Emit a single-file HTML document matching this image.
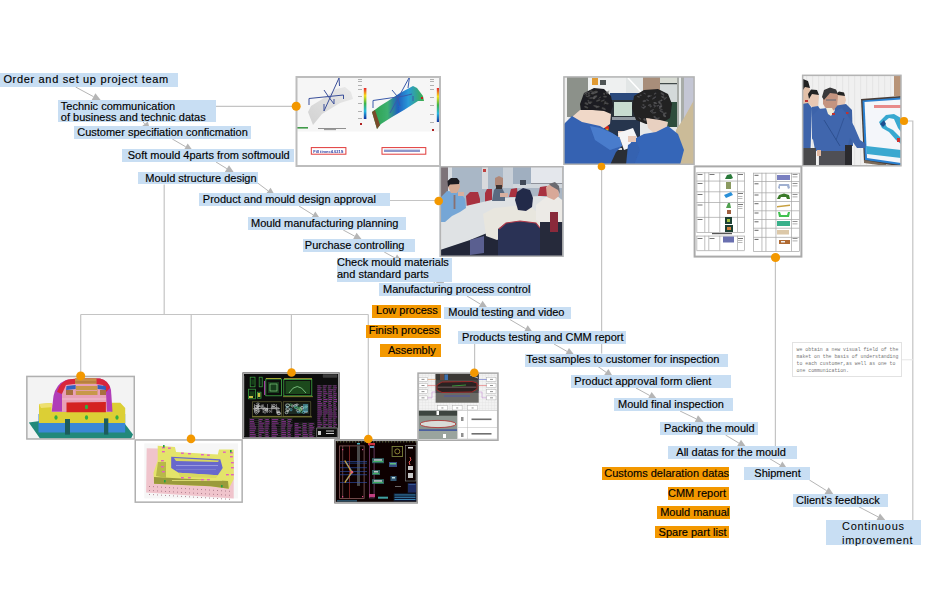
<!DOCTYPE html><html><head><meta charset="utf-8"><style>
html,body{margin:0;padding:0;background:#fff;width:930px;height:600px;overflow:hidden}
.b{position:absolute}
.t{position:absolute;font-family:"Liberation Sans",sans-serif;font-size:11px;line-height:13px;color:#000;white-space:nowrap;-webkit-text-stroke:0.15px #000}
svg{position:absolute;left:0;top:0}
</style></head><body>
<svg width="930" height="600" viewBox="0 0 930 600"><polyline points="215.9,106.3 296.0,106.3" fill="none" stroke="#c4c4c4" stroke-width="1.2"/><polyline points="389.7,200.5 439.0,200.5" fill="none" stroke="#c4c4c4" stroke-width="1.2"/><polyline points="164.2,184.4 164.2,314.5" fill="none" stroke="#c4c4c4" stroke-width="1.2"/><polyline points="80.7,314.5 368.3,314.5" fill="none" stroke="#c4c4c4" stroke-width="1.2"/><polyline points="80.7,314.5 80.7,376.0" fill="none" stroke="#c4c4c4" stroke-width="1.2"/><polyline points="191.2,314.5 191.2,439.0" fill="none" stroke="#c4c4c4" stroke-width="1.2"/><polyline points="291.4,314.5 291.4,372.5" fill="none" stroke="#c4c4c4" stroke-width="1.2"/><polyline points="368.3,314.5 368.3,439.0" fill="none" stroke="#c4c4c4" stroke-width="1.2"/><polyline points="474.6,343.7 474.6,372.7" fill="none" stroke="#c4c4c4" stroke-width="1.2"/><polyline points="601.6,166.4 601.6,353.5" fill="none" stroke="#c4c4c4" stroke-width="1.2"/><polyline points="775.4,257.4 775.4,446.0" fill="none" stroke="#c4c4c4" stroke-width="1.2"/><polyline points="904.0,121.0 912.8,121.0 912.8,520.2" fill="none" stroke="#c4c4c4" stroke-width="1.2"/><rect x="436.3" y="281.6" width="7.6" height="1.7" fill="#b5b5b5"/><line x1="901.6" y1="359.8" x2="913" y2="359.8" stroke="#e6e6e6" stroke-width="1"/><line x1="75.6" y1="87.0" x2="93.5" y2="96.7" stroke="#b5b5b5" stroke-width="1"/><polygon points="101.4,101.0 91.6,100.2 95.4,93.2" fill="#b5b5b5"/><line x1="137.0" y1="114.5" x2="144.7" y2="123.9" stroke="#b5b5b5" stroke-width="1"/><polygon points="150.4,130.9 141.6,126.5 147.8,121.4" fill="#b5b5b5"/><line x1="172.3" y1="139.0" x2="185.7" y2="146.8" stroke="#b5b5b5" stroke-width="1"/><polygon points="193.4,151.4 183.7,150.3 187.7,143.4" fill="#b5b5b5"/><line x1="216.0" y1="162.0" x2="226.9" y2="168.7" stroke="#b5b5b5" stroke-width="1"/><polygon points="234.6,173.4 224.8,172.1 229.0,165.3" fill="#b5b5b5"/><line x1="257.7" y1="183.0" x2="268.2" y2="190.9" stroke="#b5b5b5" stroke-width="1"/><polygon points="275.4,196.3 265.8,194.1 270.6,187.7" fill="#b5b5b5"/><line x1="299.0" y1="206.0" x2="313.2" y2="214.9" stroke="#b5b5b5" stroke-width="1"/><polygon points="320.8,219.7 311.1,218.3 315.3,211.5" fill="#b5b5b5"/><line x1="343.2" y1="230.0" x2="354.7" y2="236.2" stroke="#b5b5b5" stroke-width="1"/><polygon points="362.6,240.5 352.8,239.7 356.6,232.7" fill="#b5b5b5"/><line x1="384.2" y1="252.0" x2="395.1" y2="258.0" stroke="#b5b5b5" stroke-width="1"/><polygon points="402.9,262.4 393.1,261.5 397.0,254.5" fill="#b5b5b5"/><line x1="428.0" y1="276.0" x2="436.6" y2="285.0" stroke="#b5b5b5" stroke-width="1"/><polygon points="442.9,291.5 433.7,287.7 439.5,282.2" fill="#b5b5b5"/><line x1="467.0" y1="296.0" x2="480.5" y2="304.2" stroke="#b5b5b5" stroke-width="1"/><polygon points="488.2,308.9 478.4,307.6 482.6,300.8" fill="#b5b5b5"/><line x1="509.7" y1="319.4" x2="525.7" y2="328.8" stroke="#b5b5b5" stroke-width="1"/><polygon points="533.4,333.3 523.7,332.2 527.7,325.3" fill="#b5b5b5"/><line x1="554.0" y1="344.0" x2="567.0" y2="351.4" stroke="#b5b5b5" stroke-width="1"/><polygon points="574.9,355.8 565.1,354.9 569.0,347.9" fill="#b5b5b5"/><line x1="598.0" y1="366.5" x2="606.1" y2="372.3" stroke="#b5b5b5" stroke-width="1"/><polygon points="613.4,377.5 603.8,375.5 608.4,369.0" fill="#b5b5b5"/><line x1="636.0" y1="388.0" x2="649.7" y2="395.5" stroke="#b5b5b5" stroke-width="1"/><polygon points="657.6,399.8 647.8,399.0 651.6,392.0" fill="#b5b5b5"/><line x1="680.0" y1="411.0" x2="696.3" y2="418.9" stroke="#b5b5b5" stroke-width="1"/><polygon points="704.3,422.8 694.5,422.5 698.0,415.3" fill="#b5b5b5"/><line x1="725.5" y1="435.0" x2="738.9" y2="443.1" stroke="#b5b5b5" stroke-width="1"/><polygon points="746.6,447.8 736.9,446.5 741.0,439.7" fill="#b5b5b5"/><line x1="769.4" y1="458.5" x2="780.2" y2="465.0" stroke="#b5b5b5" stroke-width="1"/><polygon points="787.9,469.7 778.2,468.5 782.3,461.6" fill="#b5b5b5"/><line x1="809.4" y1="480.0" x2="826.6" y2="490.7" stroke="#b5b5b5" stroke-width="1"/><polygon points="834.2,495.5 824.5,494.1 828.7,487.3" fill="#b5b5b5"/><line x1="858.3" y1="506.5" x2="878.1" y2="516.9" stroke="#b5b5b5" stroke-width="1"/><polygon points="886.1,521.1 876.3,520.5 880.0,513.4" fill="#b5b5b5"/><defs><filter id="bl" x="-2%" y="-2%" width="104%" height="104%"><feGaussianBlur stdDeviation="0.45"/></filter><filter id="bl2" x="-2%" y="-2%" width="104%" height="104%"><feGaussianBlur stdDeviation="0.7"/></filter>
<linearGradient id="cbar" x1="0" y1="0" x2="0" y2="1">
<stop offset="0" stop-color="#e8202a"/><stop offset="0.25" stop-color="#f5e01a"/><stop offset="0.5" stop-color="#3cb54a"/><stop offset="0.75" stop-color="#28b7e0"/><stop offset="1" stop-color="#1030a0"/></linearGradient>
<linearGradient id="band" x1="0" y1="0" x2="1" y2="0">
<stop offset="0" stop-color="#2aa04a"/><stop offset="0.3" stop-color="#3db070"/><stop offset="0.5" stop-color="#1f5fc0"/><stop offset="0.7" stop-color="#2a9ad8"/><stop offset="1" stop-color="#3cb04a"/></linearGradient>
<linearGradient id="gband" x1="0" y1="1" x2="1" y2="0">
<stop offset="0" stop-color="#d2d2d2"/><stop offset="1" stop-color="#e9e9e9"/></linearGradient>
</defs><g filter="url(#bl)"><rect x="295.5" y="76" width="145" height="90" fill="#ffffff" /><rect x="297" y="78" width="142" height="53.5" fill="#f6f6f6" /><polygon points="308,112 313,125 322,114 340,103 353,99 351,92 345,87 336,89 324,98 311,106" fill="url(#gband)" /><polyline points="309,105 309,98.5 343.5,95 343.5,99" fill="none" stroke="#3a4f9a" stroke-width="1" /><polyline points="339.5,86 339,78 324,111" fill="none" stroke="#3a4f9a" stroke-width="1" /><polyline points="324,90 328,96 334,104" fill="none" stroke="#3a4f9a" stroke-width="1" /><polyline points="324,104 324,111" fill="none" stroke="#3a4f9a" stroke-width="1" /><polyline points="334,99 334,104" fill="none" stroke="#3a4f9a" stroke-width="1" /><rect x="363.8" y="88" width="2.6" height="31" fill="url(#cbar)" /><rect x="358" y="79" width="4" height="0.8" fill="#a0a0a0" /><rect x="358" y="81" width="4" height="0.8" fill="#a0a0a0" /><rect x="358" y="85" width="4" height="0.8" fill="#a0a0a0" /><rect x="358" y="89" width="4" height="0.8" fill="#a0a0a0" /><rect x="358" y="96" width="4" height="0.8" fill="#a0a0a0" /><rect x="358" y="103" width="4" height="0.8" fill="#a0a0a0" /><rect x="358" y="111" width="4" height="0.8" fill="#a0a0a0" /><rect x="358" y="118" width="4" height="0.8" fill="#a0a0a0" /><rect x="297" y="127" width="11" height="1.6" fill="#3f9a48" /><rect x="318" y="128" width="28" height="0.8" fill="#777" /><rect x="324" y="129.3" width="12" height="0.8" fill="#777" /><rect x="360" y="123" width="2" height="2" fill="#b02020" /><polygon points="372,112 377,129 381,124 392,117 404,110 418,101 424,101 423,96 417,88 413,86 400,93 388,101 380,106" fill="url(#band)" /><polygon points="372,112 377,129 380,125 375,110" fill="#7a4a2a" /><rect x="421" y="97" width="2" height="2" fill="#c02020" /><polyline points="373,108 373,100.5 404,96 412,94" fill="none" stroke="#3a5aaa" stroke-width="1" /><polyline points="408,88 409.5,77 390,113" fill="none" stroke="#3a5aaa" stroke-width="1" /><polyline points="392,90 397,96 400,106" fill="none" stroke="#3a5aaa" stroke-width="1" /><polyline points="413,96 413,101" fill="none" stroke="#3a5aaa" stroke-width="1" /><rect x="436.8" y="88" width="2.5" height="34" fill="url(#cbar)" /><rect x="430" y="79" width="4" height="0.8" fill="#a0a0a0" /><rect x="430" y="81" width="4" height="0.8" fill="#a0a0a0" /><rect x="430" y="85" width="4" height="0.8" fill="#a0a0a0" /><rect x="430" y="89" width="4" height="0.8" fill="#a0a0a0" /><rect x="430" y="97" width="4" height="0.8" fill="#a0a0a0" /><rect x="430" y="105" width="4" height="0.8" fill="#a0a0a0" /><rect x="430" y="114" width="4" height="0.8" fill="#a0a0a0" /><rect x="430" y="122" width="4" height="0.8" fill="#a0a0a0" /><rect x="432" y="129" width="2" height="2" fill="#b02020" /><rect x="311.3" y="147.6" width="34.6" height="6.6" fill="#ffffff" stroke="#e03a3a" stroke-width="1"/><text x="313.2" y="152.5" font-family="Liberation Sans" font-size="4.0" font-weight="bold" fill="#2a3aa0">Fill time=4.021S</text><rect x="382" y="147.6" width="43.8" height="6.6" fill="#ffffff" stroke="#e03a3a" stroke-width="1"/><rect x="384" y="149.6" width="36" height="2.4" fill="#3040a0" opacity="0.55"/></g><rect x="296.5" y="77.0" width="143.5" height="89" fill="none" stroke="#bdbdbd" stroke-width="2"/><g filter="url(#bl)"><rect x="439.6" y="166" width="124.0" height="91" fill="#aab6c4" /><rect x="440" y="166" width="9" height="32" fill="#7d7378" /><rect x="448" y="166" width="4" height="40" fill="#d8dde2" /><rect x="452" y="166" width="60" height="36" fill="#a9b7c6" /><rect x="503" y="166" width="10" height="22" fill="#c9d0d8" /><rect x="513" y="166" width="18" height="20" fill="#a0afc0" /><rect x="531" y="166" width="32" height="19" fill="#e4e7ec" /><rect x="531" y="183.5" width="32" height="2" fill="#3a3f4a" /><rect x="513" y="184" width="50" height="4" fill="#d0d6dc" /><rect x="482" y="167" width="6" height="22" fill="#d9dadd" /><rect x="483" y="169" width="3" height="3" fill="#c04040" /><rect x="455" y="181" width="3" height="3" fill="#506070" /><rect x="520" y="180" width="6" height="5" fill="#404858" /><polygon points="466,196 470,192 478,192 480,199 480,207 467,207" fill="#a83040" /><polygon points="485,193 487,189 492,189 492,203 485,203" fill="#a83040" /><polygon points="509,197 511,189 517,188 518,197" fill="#a83040" /><polygon points="538,196 540,187 547,186 547,196" fill="#a83040" /><polygon points="440,212 470,205 500,198 540,196 563,200 563,257 440,257" fill="#dfe2e4" /><polygon points="440,250 470,240 497,229 563,222 563,257 440,257" fill="#222838" /><polygon points="470,240 484,236 484,253 470,255" fill="#5a5e90" /><polygon points="440,198 447,191 460,192 465,199 466,208 460,212 452,216 445,222 440,222" fill="#74a6d6" /><rect x="453.6" y="195" width="1.8" height="14" fill="#8a7070" /><polygon points="448,181 453,179 459,181 460,187 457,193 451,193 448,187" fill="#d4aa94" /><polygon points="447.5,181 451,178 457,178 459.5,181 459,184 450,184.5 448,187" fill="#1a1a20" /><rect x="458" y="192" width="6" height="4" fill="#d8b0a0" /><polygon points="494,190 498,186 502,188 505,194 505,201 492,201" fill="#5a6a80" /><polygon points="495,178 499,176 503,178 503,187 499,189 495,186" fill="#b08878" /><rect x="496" y="185" width="6" height="4" fill="#3a3030" /><rect x="500" y="193" width="8" height="4" fill="#d8b0a0" /><polygon points="483,214 494,208 514,206 532,208 540,214 540,232 527,230 510,233 497,240 486,236" fill="#e8e6de" /><polygon points="515,200 517,192 523,188 530,190 533,198 532,207 526,211 518,210" fill="#242a4a" /><polygon points="536,205 546,197 556,195 562,200 562,225 545,226 536,220" fill="#eceae6" /><polygon points="546,187 552,183 558,186 559,196 554,200 547,197" fill="#d8a898" /><polygon points="549,184 555,182 559,186 560,194 558,190 551,186" fill="#6a6a70" /><polygon points="498,229 506,223 520,221 536,223 540,228 540,256 498,256" fill="#2c3155" /><polyline points="499,229 506,223 520,221 536,223 540,228" fill="none" stroke="#b03a4a" stroke-width="1.2" /><rect x="540" y="222" width="23" height="34" fill="#262a3a" /><rect x="550" y="212" width="8" height="20" fill="#8a2a3a" /></g><rect x="440.35" y="166.75" width="122.5" height="89.5" fill="none" stroke="#b4b4b4" stroke-width="1.5"/><g filter="url(#bl)"><rect x="563.2" y="76.2" width="131.5999999999999" height="88.8" fill="#e6e8e8" /><rect x="564" y="77" width="4" height="45" fill="#f0f0f0" /><rect x="567" y="77" width="21" height="40" fill="#8c918a" /><rect x="588" y="77" width="40" height="16" fill="#eef0f0" /><rect x="592" y="78" width="6" height="7" fill="#e09a30" /><rect x="600" y="80" width="6" height="5" fill="#505454" /><rect x="626" y="77" width="17" height="16" fill="#e2e6e6" /><polyline points="628,78 642,93" fill="none" stroke="#ffffff" stroke-width="1.5" /><rect x="643" y="77" width="17" height="16" fill="#a88e7a" /><rect x="660" y="77" width="19" height="6" fill="#d8dcd4" /><rect x="660" y="83" width="19" height="1.5" fill="#404848" /><rect x="660" y="84.5" width="19" height="18" fill="#d4dada" /><rect x="660" y="102" width="18" height="25" fill="#2e4e3e" /><rect x="677" y="77" width="8" height="60" fill="#a8aca8" /><rect x="679" y="77" width="2" height="55" fill="#e8ecec" /><rect x="684" y="77" width="10" height="80" fill="#c4c6d4" /><polygon points="676,130 684,118 694,100 694,164 672,164" fill="#cbbb98" /><rect x="610" y="93" width="30" height="8" fill="#2c4a7c" /><rect x="608" y="100" width="32" height="45" fill="#2a3038" /><rect x="614" y="102" width="18" height="14" fill="#c8dcd0" /><rect x="612" y="117" width="24" height="3" fill="#9098a0" /><rect x="604" y="120" width="36" height="20" fill="#26344e" /><rect x="602" y="140" width="40" height="25" fill="#2a2e34" /><rect x="606" y="148" width="16" height="2" fill="#d8d8d8" /><circle cx="607" cy="128" r="2.2" fill="#d8281c"/><circle cx="607" cy="130" r="1.5" fill="#e0d020" opacity="0.7"/><polygon points="580,104 584,93 594,88 604,89 611,96 613,106 610,114 600,112 590,110 581,112" fill="#1e1e20" /><ellipse cx="592.4" cy="93.7" rx="2.0" ry="0.5" fill="#68686a" opacity="0.55" transform="rotate(3 592.4 93.7)"/><ellipse cx="593.4" cy="92.0" rx="1.8" ry="0.5" fill="#68686a" opacity="0.55" transform="rotate(-5 593.4 92.0)"/><ellipse cx="586.6" cy="92.6" rx="1.6" ry="1.0" fill="#68686a" opacity="0.55" transform="rotate(-30 586.6 92.6)"/><ellipse cx="590.1" cy="102.3" rx="2.4" ry="0.8" fill="#68686a" opacity="0.55" transform="rotate(-8 590.1 102.3)"/><ellipse cx="607.5" cy="91.8" rx="2.3" ry="0.7" fill="#68686a" opacity="0.55" transform="rotate(-28 607.5 91.8)"/><ellipse cx="587.7" cy="96.6" rx="2.2" ry="0.6" fill="#68686a" opacity="0.55" transform="rotate(7 587.7 96.6)"/><ellipse cx="599.7" cy="97.7" rx="1.8" ry="0.5" fill="#68686a" opacity="0.55" transform="rotate(-35 599.7 97.7)"/><ellipse cx="589.7" cy="103.2" rx="1.6" ry="0.7" fill="#68686a" opacity="0.55" transform="rotate(7 589.7 103.2)"/><ellipse cx="595.4" cy="96.4" rx="2.2" ry="0.9" fill="#68686a" opacity="0.55" transform="rotate(-20 595.4 96.4)"/><ellipse cx="598.2" cy="100.5" rx="2.3" ry="0.9" fill="#68686a" opacity="0.55" transform="rotate(-17 598.2 100.5)"/><ellipse cx="607.5" cy="93.1" rx="1.6" ry="1.0" fill="#68686a" opacity="0.55" transform="rotate(-28 607.5 93.1)"/><ellipse cx="596.2" cy="91.7" rx="2.0" ry="1.0" fill="#68686a" opacity="0.55" transform="rotate(6 596.2 91.7)"/><ellipse cx="605.1" cy="96.6" rx="2.0" ry="0.9" fill="#68686a" opacity="0.55" transform="rotate(6 605.1 96.6)"/><ellipse cx="595.5" cy="106.1" rx="2.4" ry="0.8" fill="#68686a" opacity="0.55" transform="rotate(13 595.5 106.1)"/><ellipse cx="586.4" cy="103.6" rx="2.0" ry="1.1" fill="#68686a" opacity="0.55" transform="rotate(26 586.4 103.6)"/><ellipse cx="591.5" cy="97.9" rx="2.0" ry="0.5" fill="#68686a" opacity="0.55" transform="rotate(-3 591.5 97.9)"/><ellipse cx="588.9" cy="93.1" rx="1.1" ry="1.0" fill="#68686a" opacity="0.55" transform="rotate(-30 588.9 93.1)"/><ellipse cx="590.7" cy="98.0" rx="2.3" ry="0.5" fill="#68686a" opacity="0.55" transform="rotate(-4 590.7 98.0)"/><ellipse cx="597.6" cy="106.9" rx="2.2" ry="1.0" fill="#68686a" opacity="0.55" transform="rotate(-18 597.6 106.9)"/><ellipse cx="594.6" cy="97.5" rx="2.3" ry="1.1" fill="#68686a" opacity="0.55" transform="rotate(-28 594.6 97.5)"/><ellipse cx="589.1" cy="95.2" rx="1.4" ry="0.8" fill="#68686a" opacity="0.55" transform="rotate(7 589.1 95.2)"/><ellipse cx="591.0" cy="91.1" rx="1.6" ry="0.7" fill="#68686a" opacity="0.55" transform="rotate(5 591.0 91.1)"/><ellipse cx="606.9" cy="103.4" rx="1.8" ry="0.9" fill="#68686a" opacity="0.55" transform="rotate(14 606.9 103.4)"/><ellipse cx="586.2" cy="107.2" rx="2.2" ry="1.0" fill="#68686a" opacity="0.55" transform="rotate(24 586.2 107.2)"/><ellipse cx="594.0" cy="98.2" rx="1.2" ry="0.9" fill="#68686a" opacity="0.55" transform="rotate(-35 594.0 98.2)"/><ellipse cx="586.5" cy="94.8" rx="1.2" ry="0.7" fill="#68686a" opacity="0.55" transform="rotate(-36 586.5 94.8)"/><ellipse cx="585.0" cy="93.7" rx="1.2" ry="0.7" fill="#68686a" opacity="0.55" transform="rotate(-38 585.0 93.7)"/><ellipse cx="605.1" cy="102.1" rx="1.2" ry="0.7" fill="#68686a" opacity="0.55" transform="rotate(-12 605.1 102.1)"/><ellipse cx="593.4" cy="93.2" rx="2.3" ry="1.1" fill="#68686a" opacity="0.55" transform="rotate(-3 593.4 93.2)"/><ellipse cx="596.1" cy="92.5" rx="1.2" ry="0.7" fill="#68686a" opacity="0.55" transform="rotate(-19 596.1 92.5)"/><ellipse cx="604.1" cy="93.9" rx="1.0" ry="1.1" fill="#68686a" opacity="0.55" transform="rotate(2 604.1 93.9)"/><ellipse cx="588.4" cy="100.8" rx="1.0" ry="0.8" fill="#68686a" opacity="0.55" transform="rotate(38 588.4 100.8)"/><ellipse cx="604.9" cy="103.5" rx="1.4" ry="0.7" fill="#68686a" opacity="0.55" transform="rotate(-27 604.9 103.5)"/><ellipse cx="602.8" cy="100.6" rx="2.2" ry="0.7" fill="#68686a" opacity="0.55" transform="rotate(-22 602.8 100.6)"/><ellipse cx="603.7" cy="108.7" rx="2.3" ry="1.0" fill="#68686a" opacity="0.55" transform="rotate(25 603.7 108.7)"/><polygon points="572,117 580,110 592,110 604,111 611,114 610,124 600,131 586,128 576,124" fill="#f0d8c8" /><polygon points="564,124 572,116 582,122 600,126 612,133 620,138 622,146 616,152 610,165 564,165" fill="#3462b2" /><polygon points="590,126 600,128 612,133 620,138 622,146 610,150 595,140" fill="#4a7ccc" /><rect x="618" y="131" width="8" height="6" fill="#e8c8b8" /><polygon points="618,133 633,128 640,144 624,150" fill="#f4f4f6" /><polygon points="632,108 634,96 644,90 658,89 668,94 672,104 670,118 660,124 646,124 636,120" fill="#202022" /><ellipse cx="644.3" cy="119.0" rx="1.2" ry="0.9" fill="#68686a" opacity="0.55" transform="rotate(-33 644.3 119.0)"/><ellipse cx="644.9" cy="120.0" rx="1.3" ry="0.9" fill="#68686a" opacity="0.55" transform="rotate(-3 644.9 120.0)"/><ellipse cx="650.7" cy="106.4" rx="1.3" ry="1.0" fill="#68686a" opacity="0.55" transform="rotate(-33 650.7 106.4)"/><ellipse cx="644.6" cy="93.5" rx="1.4" ry="0.7" fill="#68686a" opacity="0.55" transform="rotate(32 644.6 93.5)"/><ellipse cx="648.6" cy="96.1" rx="1.4" ry="1.1" fill="#68686a" opacity="0.55" transform="rotate(-35 648.6 96.1)"/><ellipse cx="655.4" cy="103.2" rx="2.0" ry="0.7" fill="#68686a" opacity="0.55" transform="rotate(15 655.4 103.2)"/><ellipse cx="651.9" cy="110.5" rx="2.4" ry="0.8" fill="#68686a" opacity="0.55" transform="rotate(-29 651.9 110.5)"/><ellipse cx="639.8" cy="118.5" rx="1.7" ry="0.6" fill="#68686a" opacity="0.55" transform="rotate(36 639.8 118.5)"/><ellipse cx="654.2" cy="112.7" rx="2.3" ry="0.7" fill="#68686a" opacity="0.55" transform="rotate(-11 654.2 112.7)"/><ellipse cx="662.6" cy="96.6" rx="2.1" ry="0.6" fill="#68686a" opacity="0.55" transform="rotate(15 662.6 96.6)"/><ellipse cx="657.7" cy="118.6" rx="2.3" ry="0.8" fill="#68686a" opacity="0.55" transform="rotate(-24 657.7 118.6)"/><ellipse cx="642.2" cy="107.3" rx="1.8" ry="0.5" fill="#68686a" opacity="0.55" transform="rotate(32 642.2 107.3)"/><ellipse cx="652.2" cy="111.9" rx="1.3" ry="0.6" fill="#68686a" opacity="0.55" transform="rotate(-39 652.2 111.9)"/><ellipse cx="647.6" cy="100.2" rx="1.6" ry="0.7" fill="#68686a" opacity="0.55" transform="rotate(27 647.6 100.2)"/><ellipse cx="663.0" cy="97.7" rx="1.6" ry="0.6" fill="#68686a" opacity="0.55" transform="rotate(13 663.0 97.7)"/><ellipse cx="665.3" cy="98.4" rx="2.1" ry="0.7" fill="#68686a" opacity="0.55" transform="rotate(-39 665.3 98.4)"/><ellipse cx="659.4" cy="102.2" rx="1.3" ry="0.8" fill="#68686a" opacity="0.55" transform="rotate(-21 659.4 102.2)"/><ellipse cx="649.5" cy="105.0" rx="1.6" ry="0.9" fill="#68686a" opacity="0.55" transform="rotate(-17 649.5 105.0)"/><ellipse cx="640.7" cy="95.3" rx="1.2" ry="0.8" fill="#68686a" opacity="0.55" transform="rotate(-11 640.7 95.3)"/><ellipse cx="660.6" cy="106.6" rx="2.1" ry="1.1" fill="#68686a" opacity="0.55" transform="rotate(-35 660.6 106.6)"/><ellipse cx="638.5" cy="96.8" rx="1.6" ry="0.8" fill="#68686a" opacity="0.55" transform="rotate(20 638.5 96.8)"/><ellipse cx="647.8" cy="119.1" rx="1.0" ry="1.0" fill="#68686a" opacity="0.55" transform="rotate(-23 647.8 119.1)"/><ellipse cx="662.5" cy="93.9" rx="2.4" ry="1.0" fill="#68686a" opacity="0.55" transform="rotate(39 662.5 93.9)"/><ellipse cx="654.2" cy="97.8" rx="2.5" ry="0.8" fill="#68686a" opacity="0.55" transform="rotate(-33 654.2 97.8)"/><ellipse cx="655.0" cy="106.4" rx="1.7" ry="0.6" fill="#68686a" opacity="0.55" transform="rotate(-30 655.0 106.4)"/><ellipse cx="654.3" cy="105.2" rx="1.2" ry="0.8" fill="#68686a" opacity="0.55" transform="rotate(18 654.3 105.2)"/><ellipse cx="658.0" cy="105.7" rx="1.6" ry="0.7" fill="#68686a" opacity="0.55" transform="rotate(-22 658.0 105.7)"/><ellipse cx="643.5" cy="105.0" rx="1.2" ry="0.9" fill="#68686a" opacity="0.55" transform="rotate(17 643.5 105.0)"/><ellipse cx="655.1" cy="93.6" rx="1.5" ry="0.8" fill="#68686a" opacity="0.55" transform="rotate(-33 655.1 93.6)"/><ellipse cx="665.1" cy="113.4" rx="1.8" ry="0.9" fill="#68686a" opacity="0.55" transform="rotate(-24 665.1 113.4)"/><ellipse cx="644.4" cy="107.2" rx="2.1" ry="0.9" fill="#68686a" opacity="0.55" transform="rotate(-39 644.4 107.2)"/><ellipse cx="655.2" cy="117.5" rx="2.1" ry="1.1" fill="#68686a" opacity="0.55" transform="rotate(39 655.2 117.5)"/><ellipse cx="644.3" cy="101.0" rx="1.8" ry="1.1" fill="#68686a" opacity="0.55" transform="rotate(-10 644.3 101.0)"/><ellipse cx="664.4" cy="116.0" rx="1.8" ry="0.9" fill="#68686a" opacity="0.55" transform="rotate(37 664.4 116.0)"/><ellipse cx="659.9" cy="101.0" rx="2.3" ry="0.6" fill="#68686a" opacity="0.55" transform="rotate(-10 659.9 101.0)"/><ellipse cx="664.8" cy="115.9" rx="1.5" ry="0.7" fill="#68686a" opacity="0.55" transform="rotate(9 664.8 115.9)"/><ellipse cx="661.6" cy="111.5" rx="2.4" ry="0.9" fill="#68686a" opacity="0.55" transform="rotate(26 661.6 111.5)"/><ellipse cx="654.9" cy="102.8" rx="1.6" ry="0.8" fill="#68686a" opacity="0.55" transform="rotate(2 654.9 102.8)"/><ellipse cx="661.5" cy="100.3" rx="1.1" ry="0.9" fill="#68686a" opacity="0.55" transform="rotate(-18 661.5 100.3)"/><ellipse cx="649.8" cy="96.2" rx="2.2" ry="0.7" fill="#68686a" opacity="0.55" transform="rotate(-17 649.8 96.2)"/><ellipse cx="660.5" cy="106.6" rx="1.4" ry="1.0" fill="#68686a" opacity="0.55" transform="rotate(-7 660.5 106.6)"/><ellipse cx="648.1" cy="119.1" rx="2.2" ry="0.9" fill="#68686a" opacity="0.55" transform="rotate(-20 648.1 119.1)"/><ellipse cx="660.8" cy="109.1" rx="2.2" ry="0.7" fill="#68686a" opacity="0.55" transform="rotate(22 660.8 109.1)"/><ellipse cx="660.2" cy="103.5" rx="2.0" ry="1.0" fill="#68686a" opacity="0.55" transform="rotate(39 660.2 103.5)"/><ellipse cx="663.8" cy="114.2" rx="1.2" ry="0.9" fill="#68686a" opacity="0.55" transform="rotate(15 663.8 114.2)"/><polygon points="646,118 660,120 668,122 666,132 655,134 648,128" fill="#e8d0c0" /><polygon points="632,140 644,134 656,132 668,126 678,134 684,150 680,165 630,165 628,150" fill="#3666b8" /><polygon points="628,145 636,140 640,150 634,165 626,165" fill="#3462b0" /><rect x="628" y="136" width="8" height="6" fill="#e8c8b8" /></g><rect x="563.95" y="76.95" width="130.0999999999999" height="87.3" fill="none" stroke="#b4b4b4" stroke-width="1.5"/><g filter="url(#bl)"><rect x="693.6" y="165.4" width="108.79999999999995" height="92.20000000000002" fill="#ffffff" /><rect x="696.5" y="172.5" width="0.7" height="59.7" fill="#a4a4a4" /><rect x="704.5" y="172.5" width="0.7" height="59.7" fill="#a4a4a4" /><rect x="708.5" y="172.5" width="0.7" height="59.7" fill="#a4a4a4" /><rect x="719.5" y="172.5" width="0.7" height="59.7" fill="#a4a4a4" /><rect x="737" y="172.5" width="0.7" height="59.7" fill="#a4a4a4" /><rect x="744" y="172.5" width="0.7" height="59.7" fill="#a4a4a4" /><rect x="696.5" y="172.5" width="48" height="0.7" fill="#a4a4a4" /><rect x="696.5" y="180.7" width="48" height="0.7" fill="#a4a4a4" /><rect x="696.5" y="191.5" width="48" height="0.7" fill="#a4a4a4" /><rect x="696.5" y="202.3" width="48" height="0.7" fill="#a4a4a4" /><rect x="696.5" y="216.9" width="48" height="0.7" fill="#a4a4a4" /><rect x="696.5" y="232.2" width="48" height="0.7" fill="#a4a4a4" /><rect x="696.5" y="235.7" width="48" height="0.7" fill="#a4a4a4" /><rect x="696.5" y="250.4" width="48" height="0.7" fill="#a4a4a4" /><rect x="696.5" y="235.7" width="0.7" height="14.7" fill="#a4a4a4" /><rect x="704.5" y="235.7" width="0.7" height="14.7" fill="#a4a4a4" /><rect x="708.5" y="235.7" width="0.7" height="14.7" fill="#a4a4a4" /><rect x="719.5" y="235.7" width="0.7" height="14.7" fill="#a4a4a4" /><rect x="737" y="235.7" width="0.7" height="14.7" fill="#a4a4a4" /><rect x="744" y="235.7" width="0.7" height="14.7" fill="#a4a4a4" /><rect x="712" y="233" width="20" height="1.2" fill="#555" /><rect x="697.5" y="174" width="5" height="1" fill="#777" /><rect x="709.5" y="174" width="5" height="1" fill="#777" /><rect x="697.5" y="183" width="5" height="1" fill="#777" /><rect x="697.5" y="194" width="5" height="1" fill="#777" /><rect x="697.5" y="204.5" width="5" height="1" fill="#777" /><rect x="697.5" y="219" width="5" height="1" fill="#777" /><rect x="697.5" y="238" width="5" height="1" fill="#777" /><rect x="709.5" y="238" width="5" height="1" fill="#777" /><rect x="738" y="174" width="5" height="1" fill="#777" /><rect x="738" y="193" width="5" height="1" fill="#777" /><rect x="738" y="204" width="5" height="1" fill="#777" /><rect x="738" y="238" width="5" height="1" fill="#777" /><rect x="738" y="196" width="4.5" height="0.8" fill="#aaa" /><rect x="738" y="198" width="4.5" height="0.8" fill="#aaa" /><rect x="738" y="206" width="4.5" height="0.8" fill="#aaa" /><rect x="738" y="208" width="4.5" height="0.8" fill="#aaa" /><rect x="738" y="240" width="4.5" height="0.8" fill="#aaa" /><rect x="738" y="242" width="4.5" height="0.8" fill="#aaa" /><polygon points="725,179 727,175 731,174 733,178 731,179" fill="#2a7a3a" /><rect x="726" y="182" width="5" height="7" fill="#8a9a60" /><polygon points="724,195 731,192 733,195 726,198" fill="#2a90d8" /><polygon points="726,208 728,203 730,203 731,208" fill="#50a050" /><rect x="727" y="210" width="4" height="4" fill="#a06040" /><rect x="725" y="217" width="7" height="7" fill="#1a4030" /><rect x="727" y="219" width="3" height="3" fill="#a0c040" /><rect x="725" y="225" width="8" height="7" fill="#1a4030" /><rect x="727" y="227" width="4" height="3" fill="#d08040" /><rect x="723" y="236.5" width="11" height="6" fill="#6a70b0" /><rect x="753.3" y="172.8" width="0.7" height="78.5" fill="#a4a4a4" /><rect x="761.6" y="172.8" width="0.7" height="78.5" fill="#a4a4a4" /><rect x="765.6" y="172.8" width="0.7" height="78.5" fill="#a4a4a4" /><rect x="775.6" y="172.8" width="0.7" height="78.5" fill="#a4a4a4" /><rect x="791.3" y="172.8" width="0.7" height="78.5" fill="#a4a4a4" /><rect x="799" y="172.8" width="0.7" height="78.5" fill="#a4a4a4" /><rect x="753.3" y="172.8" width="46" height="0.7" fill="#a4a4a4" /><rect x="753.3" y="181.3" width="46" height="0.7" fill="#a4a4a4" /><rect x="753.3" y="192.5" width="46" height="0.7" fill="#a4a4a4" /><rect x="753.3" y="201.2" width="46" height="0.7" fill="#a4a4a4" /><rect x="753.3" y="210.5" width="46" height="0.7" fill="#a4a4a4" /><rect x="753.3" y="219.3" width="46" height="0.7" fill="#a4a4a4" /><rect x="753.3" y="227.8" width="46" height="0.7" fill="#a4a4a4" /><rect x="753.3" y="236.9" width="46" height="0.7" fill="#a4a4a4" /><rect x="753.3" y="251.3" width="46" height="0.7" fill="#a4a4a4" /><rect x="754.5" y="174.8" width="4" height="1" fill="#666" /><rect x="754.5" y="183.3" width="4" height="1" fill="#666" /><rect x="754.5" y="194.5" width="4" height="1" fill="#666" /><rect x="754.5" y="203.2" width="4" height="1" fill="#666" /><rect x="754.5" y="212.5" width="4" height="1" fill="#666" /><rect x="754.5" y="221.3" width="4" height="1" fill="#666" /><rect x="754.5" y="229.8" width="4" height="1" fill="#666" /><rect x="754.5" y="238.9" width="4" height="1" fill="#666" /><rect x="777" y="175" width="13" height="5" fill="#7a80c0" /><polygon points="778,188 779,184 789,184 790,188 788,189 787,186 780,186 780,189" fill="#a0b0d0" /><polygon points="777,199 779,195 784,193.5 789,195 790,199 787,199 786,197 781,197 780,199" fill="#3a7a2a" /><polygon points="777,206 790,204.5 790,206 777,207.5" fill="#c8a040" /><polygon points="778,212 779,217 789,217 790,212 788,212 787,215 781,215 780,212" fill="#40c050" /><rect x="777" y="221" width="13" height="5" fill="#38b08a" /><rect x="777" y="230" width="12" height="4.5" fill="#dcc8a8" /><rect x="779" y="240" width="11" height="4" fill="#b06a30" /><rect x="781" y="241" width="4" height="1.5" fill="#f0f0f0" /><rect x="792.5" y="174" width="5" height="0.8" fill="#777" /><rect x="792.5" y="176.5" width="5" height="0.8" fill="#999" /><rect x="792.5" y="183" width="5" height="0.8" fill="#777" /><rect x="792.5" y="185.5" width="5" height="0.8" fill="#999" /><rect x="792.5" y="194" width="5" height="0.8" fill="#777" /><rect x="792.5" y="196.5" width="5" height="0.8" fill="#999" /><rect x="792.5" y="221" width="5" height="0.8" fill="#777" /><rect x="792.5" y="223.5" width="5" height="0.8" fill="#999" /><rect x="792.5" y="238" width="5" height="0.8" fill="#777" /><rect x="792.5" y="240.5" width="5" height="0.8" fill="#999" /></g><rect x="694.6" y="166.4" width="106.79999999999995" height="90.20000000000002" fill="none" stroke="#aaaaaa" stroke-width="2"/><g filter="url(#bl)"><rect x="801.9" y="74.6" width="99.80000000000007" height="91.9" fill="#f0f0f0" /><rect x="806" y="76" width="1.2" height="90" fill="#e6e6e6" /><rect x="812" y="76" width="1.2" height="90" fill="#e6e6e6" /><rect x="818" y="76" width="1.2" height="90" fill="#e6e6e6" /><rect x="824" y="76" width="1.2" height="90" fill="#e6e6e6" /><rect x="830" y="76" width="1.2" height="90" fill="#e6e6e6" /><rect x="836" y="76" width="1.2" height="90" fill="#e6e6e6" /><rect x="842" y="76" width="1.2" height="90" fill="#e6e6e6" /><rect x="848" y="76" width="1.2" height="90" fill="#e6e6e6" /><rect x="854" y="76" width="1.2" height="90" fill="#e6e6e6" /><rect x="860" y="76" width="1.2" height="90" fill="#e6e6e6" /><rect x="866" y="76" width="1.2" height="90" fill="#e6e6e6" /><rect x="872" y="76" width="1.2" height="90" fill="#e6e6e6" /><rect x="878" y="76" width="1.2" height="90" fill="#e6e6e6" /><rect x="884" y="76" width="1.2" height="90" fill="#e6e6e6" /><rect x="890" y="76" width="1.2" height="90" fill="#e6e6e6" /><rect x="896" y="76" width="1.2" height="90" fill="#e6e6e6" /><rect x="894" y="76" width="7" height="20" fill="#b89478" /><polygon points="861,99 901,96 901,166 864,162" fill="#4a3e38" /><polygon points="862.5,100.5 901,97.5 901,165 865,160" fill="#2a80d0" /><polygon points="864.5,102 901,99.5 901,163 867,158" fill="#f4f6fa" /><rect x="874" y="105" width="27" height="3" fill="#e88a8a" /><polygon points="879,122 886,115 894,114 901,118 901,144 896,140 889,132 882,128" fill="#38a8d0" /><polygon points="884,122 889,118 894,119 898,128 901,132 901,138 893,130 887,127" fill="#f4f6fa" /><polygon points="880,124 884,120 886,124 883,127" fill="#1a5090" /><rect x="897" y="138" width="3" height="4" fill="#d03030" /><polygon points="866,146 901,150 901,158 867,154" fill="#3aa8d0" /><polygon points="864,160 886,164 886,166 864,163" fill="#7a6a5a" /><polygon points="803,80 808,82 810,90 810,104 806,107 803,106" fill="#e2c0a8" /><polygon points="803,79 808,81 810,88 805,87 803,90" fill="#202022" /><polygon points="808,94 811,90 817,91 819,96 818,106 813,108 809,104" fill="#e8c8b4" /><polygon points="808,94 811,89.5 817,90 819,95 812,94 809,99" fill="#222224" /><polygon points="835,96 839,92 844,93 846,100 844,107 838,108 835,104" fill="#e8c8b4" /><polygon points="835,95 839,91.5 844,92.5 845,96 838,95" fill="#222224" /><polygon points="802,104 808,103 812,108 810,166 802,166" fill="#3c64aa" /><polygon points="812,107 818,106 822,112 818,130 812,140" fill="#3c64aa" /><polygon points="834,106 846,104 852,110 853,146 840,146" fill="#3a60a4" /><polygon points="823,96 825,90 830,88 836,90 838,96 837,106 833,111 827,110 823,104" fill="#c49480" /><polygon points="822,97 824,90 830,87.5 836,89.5 838,94 830,93 824,100" fill="#38383a" /><rect x="826" y="99" width="10" height="2" fill="#707078" opacity="0.6"/><polygon points="812,116 818,109 828,108 833,112 842,108 848,116 854,126 860,140 866,144 865,148 857,148 850,138 846,152 822,154 815,150 812,134" fill="#3f66ad" /><polygon points="826,108 832,108 834,112 831,116 828,114" fill="#f2ecd8" /><polyline points="824,120 840,146" fill="none" stroke="#2a4a88" stroke-width="0.8" /><polyline points="844,118 836,140" fill="none" stroke="#2a4a88" stroke-width="0.6" /><polygon points="819,151 845,151 845,166 819,166" fill="#505054" /><rect x="845" y="145" width="7" height="21" fill="#2c2c2e" /><rect x="803" y="148" width="13" height="18" fill="#48484c" /><rect x="817" y="150" width="4" height="6" fill="#e0b8a0" /><rect x="805" y="100" width="3" height="2" fill="#c03030" /><rect x="832" y="113" width="3" height="2" fill="#c03030" /><rect x="846" y="112" width="2.5" height="2" fill="#c03030" /></g><rect x="802.65" y="75.35" width="98.30000000000007" height="90.4" fill="none" stroke="#b4b4b4" stroke-width="1.5"/><g filter="url(#bl)"><rect x="26.1" y="375.7" width="108.9" height="64.0" fill="#f3f3f3" /><polygon points="28.8,422.6 40,421 125,424 133,434.6 131,438.5 40,438.5" fill="#20897a" /><rect x="38.5" y="414" width="86.7" height="18.5" fill="#3b88d6" /><polygon points="39,404 51.7,403 51.7,411.7 110.7,411.7 112,402.7 120.3,402.7 125.2,408 125.2,423 39,423" fill="#dccf34" /><polygon points="39,404 51.7,403 54,407 41,408" fill="#eee070" /><path d="M51.7 411.7 L53.5 396 Q56 384 66 380 Q80 377.5 100 378.5 Q109 380.5 111 390 L112.5 411.7 Z" fill="#b03cb8"/><path d="M57 392 Q60 382 68 379.5 Q80 377.8 100 378.6 Q108 380.5 110 388 L106 392 Q103 385 96 384 L74 384 Q66 385 62 394 Z" fill="#d8283a"/><rect x="75" y="378.2" width="21.5" height="6" fill="#c8904a" /><rect x="75" y="381.5" width="21.5" height="1" fill="#a87038" /><polygon points="62,394 66,385 74,384 96,384 103,385 106,392 107,411.7 62,411.7" fill="#e8a0b8" /><polygon points="66.5,402.5 105.9,402 105.9,412.3 66.5,412.3" fill="#d42424" /><rect x="75.8" y="386" width="21.7" height="9" fill="#c89848" /><rect x="76" y="390" width="21" height="0.8" fill="#e8a0b8" /><rect x="66" y="390" width="7" height="5" fill="#a87040" /><rect x="100" y="390" width="6" height="5" fill="#a87040" /><polygon points="66.5,386 75.6,385 75.6,389 66,390" fill="#3060c0" /><polygon points="97.6,385 105.7,386 106,390 97.6,389" fill="#3060c0" /><rect x="62" y="398.5" width="44" height="1" fill="#f0c0d0" /><rect x="65" y="419" width="5" height="15.6" fill="#1d5c5c" /><rect x="104" y="418.4" width="4.3" height="16.2" fill="#1d5c5c" /><ellipse cx="56" cy="417.5" rx="1.6" ry="2.2" fill="#30b040"/><ellipse cx="86.5" cy="417.5" rx="1.6" ry="2.2" fill="#30b040"/><ellipse cx="117" cy="417.5" rx="1.6" ry="2.2" fill="#30b040"/><ellipse cx="86.5" cy="407" rx="1.6" ry="2.2" fill="#30b040"/></g><rect x="26.85" y="376.45" width="107.4" height="62.5" fill="none" stroke="#b0b0b0" stroke-width="1.5"/><g filter="url(#bl)"><rect x="134.5" y="439.2" width="108.4" height="63.69999999999999" fill="#ffffff" /><rect x="144.3" y="443.4" width="93.7" height="55" fill="#f6f6f6" /><polygon points="146.7,448.3 158,448.5 158,460 233.7,460 233.7,498.5 146.1,492.4" fill="#f0c4cc" /><rect x="149" y="486.0" width="0.9" height="0.9" fill="#a07080" /><rect x="153" y="486.24" width="0.9" height="0.9" fill="#a07080" /><rect x="157" y="486.48" width="0.9" height="0.9" fill="#a07080" /><rect x="161" y="486.72" width="0.9" height="0.9" fill="#a07080" /><rect x="165" y="486.96" width="0.9" height="0.9" fill="#a07080" /><rect x="169" y="487.2" width="0.9" height="0.9" fill="#a07080" /><rect x="173" y="487.44" width="0.9" height="0.9" fill="#a07080" /><rect x="177" y="487.68" width="0.9" height="0.9" fill="#a07080" /><rect x="181" y="487.92" width="0.9" height="0.9" fill="#a07080" /><rect x="185" y="488.16" width="0.9" height="0.9" fill="#a07080" /><rect x="189" y="488.4" width="0.9" height="0.9" fill="#a07080" /><rect x="193" y="488.64" width="0.9" height="0.9" fill="#a07080" /><rect x="197" y="488.88" width="0.9" height="0.9" fill="#a07080" /><rect x="201" y="489.12" width="0.9" height="0.9" fill="#a07080" /><rect x="205" y="489.36" width="0.9" height="0.9" fill="#a07080" /><rect x="209" y="489.6" width="0.9" height="0.9" fill="#a07080" /><rect x="213" y="489.84" width="0.9" height="0.9" fill="#a07080" /><rect x="217" y="490.08" width="0.9" height="0.9" fill="#a07080" /><rect x="221" y="490.32" width="0.9" height="0.9" fill="#a07080" /><rect x="225" y="490.56" width="0.9" height="0.9" fill="#a07080" /><rect x="229" y="490.8" width="0.9" height="0.9" fill="#a07080" /><rect x="149" y="490.0" width="0.9" height="0.9" fill="#a07080" /><rect x="153" y="490.24" width="0.9" height="0.9" fill="#a07080" /><rect x="157" y="490.48" width="0.9" height="0.9" fill="#a07080" /><rect x="161" y="490.72" width="0.9" height="0.9" fill="#a07080" /><rect x="165" y="490.96" width="0.9" height="0.9" fill="#a07080" /><rect x="169" y="491.2" width="0.9" height="0.9" fill="#a07080" /><rect x="173" y="491.44" width="0.9" height="0.9" fill="#a07080" /><rect x="177" y="491.68" width="0.9" height="0.9" fill="#a07080" /><rect x="181" y="491.92" width="0.9" height="0.9" fill="#a07080" /><rect x="185" y="492.16" width="0.9" height="0.9" fill="#a07080" /><rect x="189" y="492.4" width="0.9" height="0.9" fill="#a07080" /><rect x="193" y="492.64" width="0.9" height="0.9" fill="#a07080" /><rect x="197" y="492.88" width="0.9" height="0.9" fill="#a07080" /><rect x="201" y="493.12" width="0.9" height="0.9" fill="#a07080" /><rect x="205" y="493.36" width="0.9" height="0.9" fill="#a07080" /><rect x="209" y="493.6" width="0.9" height="0.9" fill="#a07080" /><rect x="213" y="493.84" width="0.9" height="0.9" fill="#a07080" /><rect x="217" y="494.08" width="0.9" height="0.9" fill="#a07080" /><rect x="221" y="494.32" width="0.9" height="0.9" fill="#a07080" /><rect x="225" y="494.56" width="0.9" height="0.9" fill="#a07080" /><rect x="229" y="494.8" width="0.9" height="0.9" fill="#a07080" /><rect x="149" y="494.0" width="0.9" height="0.9" fill="#a07080" /><rect x="153" y="494.24" width="0.9" height="0.9" fill="#a07080" /><rect x="157" y="494.48" width="0.9" height="0.9" fill="#a07080" /><rect x="161" y="494.72" width="0.9" height="0.9" fill="#a07080" /><rect x="165" y="494.96" width="0.9" height="0.9" fill="#a07080" /><rect x="169" y="495.2" width="0.9" height="0.9" fill="#a07080" /><rect x="173" y="495.44" width="0.9" height="0.9" fill="#a07080" /><rect x="177" y="495.68" width="0.9" height="0.9" fill="#a07080" /><rect x="181" y="495.92" width="0.9" height="0.9" fill="#a07080" /><rect x="185" y="496.16" width="0.9" height="0.9" fill="#a07080" /><rect x="189" y="496.4" width="0.9" height="0.9" fill="#a07080" /><rect x="193" y="496.64" width="0.9" height="0.9" fill="#a07080" /><rect x="197" y="496.88" width="0.9" height="0.9" fill="#a07080" /><rect x="201" y="497.12" width="0.9" height="0.9" fill="#a07080" /><rect x="205" y="497.36" width="0.9" height="0.9" fill="#a07080" /><rect x="209" y="497.6" width="0.9" height="0.9" fill="#a07080" /><rect x="213" y="497.84" width="0.9" height="0.9" fill="#a07080" /><rect x="217" y="498.08" width="0.9" height="0.9" fill="#a07080" /><rect x="221" y="498.32" width="0.9" height="0.9" fill="#a07080" /><rect x="225" y="498.56" width="0.9" height="0.9" fill="#a07080" /><rect x="229" y="498.8" width="0.9" height="0.9" fill="#a07080" /><polygon points="157.7,445.8 174.9,447 176.1,452 217.8,454.4 219,449.5 233.7,449.5 233.7,478.9 228.8,488.7 210.5,486.3 154,483.8 153.5,472.8 157.7,460.5" fill="#e4e46a" /><polygon points="154,477 228,481 228.8,488.7 210.5,486.3 154,483.8" fill="#9a9a3a" /><rect x="172" y="480" width="50" height="1" fill="#d8d870" /><polygon points="158,462 166,462 166,478 156,476" fill="#b8b848" /><polygon points="171.2,456.8 220.3,459.3 222.7,467.9 217.8,475.2 178.6,472.8 171.2,467.9" fill="#6868cc" /><polygon points="174,458 219,460.5 218,462 176,461" fill="#d8d860" /><rect x="176" y="465" width="42" height="1" fill="#9a9ae0" /><rect x="176" y="469" width="40" height="0.8" fill="#8080d0" /><polygon points="178.6,472.8 217.8,475.2 216,478 180,477" fill="#d8d860" /><rect x="162" y="447" width="2.8" height="1.4" fill="#e060c0" /><rect x="168" y="447.5" width="2.8" height="1.4" fill="#e060c0" /><rect x="181" y="452.5" width="2.8" height="1.4" fill="#e060c0" /><rect x="188" y="453" width="2.8" height="1.4" fill="#e060c0" /><rect x="201" y="454" width="2.8" height="1.4" fill="#e060c0" /><rect x="207" y="454.5" width="2.8" height="1.4" fill="#e060c0" /><rect x="223" y="451.5" width="2.8" height="1.4" fill="#e060c0" /><rect x="230" y="452" width="2.8" height="1.4" fill="#e060c0" /><rect x="162" y="451" width="2.8" height="1.4" fill="#e060c0" /><rect x="161" y="460" width="2.8" height="1.4" fill="#e060c0" /><rect x="161" y="466" width="2.8" height="1.4" fill="#e060c0" /><rect x="162" y="471" width="2.8" height="1.4" fill="#e060c0" /><rect x="230" y="456" width="2.8" height="1.4" fill="#e060c0" /><rect x="231" y="462" width="2.8" height="1.4" fill="#e060c0" /><rect x="231" y="467" width="2.8" height="1.4" fill="#e060c0" /><rect x="226" y="474" width="2.8" height="1.4" fill="#e060c0" /><rect x="231" y="474" width="2.8" height="1.4" fill="#e060c0" /><rect x="181" y="477" width="2.8" height="1.4" fill="#e060c0" /><rect x="188" y="477" width="2.8" height="1.4" fill="#e060c0" /><rect x="201" y="479" width="2.8" height="1.4" fill="#e060c0" /><rect x="207" y="479" width="2.8" height="1.4" fill="#e060c0" /><rect x="164" y="480" width="1.6" height="2.4" fill="#20a040" /><rect x="221" y="485" width="1.6" height="2.4" fill="#20a040" /><rect x="230" y="450" width="1.6" height="2.4" fill="#20a040" /><rect x="163" y="445" width="1.6" height="2.4" fill="#20a040" /></g><rect x="135.25" y="439.95" width="106.9" height="62.19999999999999" fill="none" stroke="#b0b0b0" stroke-width="1.5"/><g filter="url(#bl)"><rect x="242.5" y="372.5" width="97.10000000000002" height="66.30000000000001" fill="#0a0a0a" /><rect x="244.5" y="376" width="0.5" height="60" fill="#555" /><rect x="250.2" y="377.2" width="4.800000000000011" height="9.600000000000023" fill="none" stroke="#38a040" stroke-width="0.8"/><rect x="251.2" y="379.2" width="2.8000000000000114" height="5.600000000000023" fill="#143a18" /><rect x="259.2" y="377.2" width="3.0" height="9.600000000000023" fill="none" stroke="#38a040" stroke-width="0.8"/><rect x="260.2" y="379.2" width="1.0" height="5.600000000000023" fill="#143a18" /><rect x="248.4" y="389.2" width="7.199999999999989" height="9.600000000000023" fill="none" stroke="#38a040" stroke-width="0.8"/><rect x="249.4" y="391.2" width="5.199999999999989" height="5.600000000000023" fill="#143a18" /><rect x="257.4" y="392.2" width="3.6000000000000227" height="6.0" fill="none" stroke="#38a040" stroke-width="0.8"/><rect x="258.4" y="394.2" width="1.6000000000000227" height="2.0" fill="#143a18" /><rect x="257.8" y="393" width="2.5" height="4" fill="#c8c040" /><rect x="249" y="396" width="4" height="2" fill="#c8c040" /><rect x="265.8" y="379" width="15.6" height="16.8" fill="none" stroke="#40b048" stroke-width="0.8"/><rect x="268" y="382" width="11" height="11" fill="#163e1a" /><rect x="270" y="384" width="7" height="7" fill="none" stroke="#90e090" stroke-width="0.6"/><rect x="264" y="381" width="1.2" height="14" fill="#a040a0" /><rect x="266" y="378" width="15" height="0.8" fill="#c8c040" /><rect x="283.8" y="379.5" width="28" height="16.3" fill="none" stroke="#40b048" stroke-width="0.8"/><rect x="285.5" y="381" width="24.5" height="13" fill="#1a4a1e" /><path d="M289 393 Q297 380 306 393" fill="none" stroke="#a0e8a0" stroke-width="0.7"/><rect x="284" y="378.3" width="28" height="0.8" fill="#c8c040" /><rect x="283" y="396.5" width="30" height="0.6" fill="#c8c040" /><rect x="252.6" y="401.8" width="28.8" height="14.4" fill="none" stroke="#707040" stroke-width="0.6"/><ellipse cx="265.3" cy="409.1" rx="1.9" ry="1.0" fill="none" stroke="#e0e0e0" stroke-width="0.5"/><ellipse cx="266.7" cy="409.4" rx="1.0" ry="1.1" fill="none" stroke="#e0e0e0" stroke-width="0.5"/><ellipse cx="269.7" cy="411.4" rx="0.9" ry="0.9" fill="none" stroke="#e0e0e0" stroke-width="0.5"/><ellipse cx="256.3" cy="411.6" rx="1.6" ry="0.6" fill="none" stroke="#e0e0e0" stroke-width="0.5"/><ellipse cx="278.6" cy="413.1" rx="1.6" ry="1.2" fill="none" stroke="#e0e0e0" stroke-width="0.5"/><ellipse cx="257.9" cy="403.7" rx="1.4" ry="0.7" fill="none" stroke="#e0e0e0" stroke-width="0.5"/><ellipse cx="258.8" cy="405.9" rx="0.8" ry="1.0" fill="none" stroke="#e0e0e0" stroke-width="0.5"/><ellipse cx="265.0" cy="411.9" rx="1.4" ry="1.2" fill="none" stroke="#e0e0e0" stroke-width="0.5"/><ellipse cx="266.5" cy="410.1" rx="1.3" ry="0.9" fill="none" stroke="#e0e0e0" stroke-width="0.5"/><ellipse cx="278.9" cy="413.5" rx="1.8" ry="1.2" fill="none" stroke="#e0e0e0" stroke-width="0.5"/><ellipse cx="261.9" cy="405.8" rx="1.1" ry="0.7" fill="none" stroke="#e0e0e0" stroke-width="0.5"/><ellipse cx="273.2" cy="407.5" rx="1.8" ry="0.9" fill="none" stroke="#e0e0e0" stroke-width="0.5"/><ellipse cx="278.0" cy="412.0" rx="0.8" ry="0.8" fill="none" stroke="#e0e0e0" stroke-width="0.5"/><ellipse cx="276.8" cy="408.2" rx="2.0" ry="1.0" fill="none" stroke="#e0e0e0" stroke-width="0.5"/><ellipse cx="255.8" cy="409.8" rx="1.7" ry="0.8" fill="none" stroke="#e0e0e0" stroke-width="0.5"/><ellipse cx="256.2" cy="406.8" rx="2.0" ry="1.3" fill="none" stroke="#e0e0e0" stroke-width="0.5"/><ellipse cx="256.9" cy="406.0" rx="0.9" ry="0.7" fill="none" stroke="#e0e0e0" stroke-width="0.5"/><ellipse cx="273.9" cy="405.3" rx="1.5" ry="1.0" fill="none" stroke="#e0e0e0" stroke-width="0.5"/><ellipse cx="258.8" cy="410.8" rx="1.0" ry="1.2" fill="none" stroke="#e0e0e0" stroke-width="0.5"/><ellipse cx="256.9" cy="407.7" rx="1.1" ry="0.8" fill="none" stroke="#e0e0e0" stroke-width="0.5"/><ellipse cx="278.3" cy="411.5" rx="1.2" ry="1.4" fill="none" stroke="#e0e0e0" stroke-width="0.5"/><ellipse cx="259.3" cy="407.4" rx="1.8" ry="1.2" fill="none" stroke="#e0e0e0" stroke-width="0.5"/><ellipse cx="256.5" cy="413.4" rx="1.1" ry="0.8" fill="none" stroke="#e0e0e0" stroke-width="0.5"/><ellipse cx="273.3" cy="406.8" rx="1.2" ry="0.7" fill="none" stroke="#e0e0e0" stroke-width="0.5"/><ellipse cx="256.3" cy="409.3" rx="1.1" ry="1.1" fill="none" stroke="#e0e0e0" stroke-width="0.5"/><ellipse cx="263.3" cy="408.0" rx="2.0" ry="1.0" fill="none" stroke="#e0e0e0" stroke-width="0.5"/><rect x="254.0" y="404" width="0.5" height="9" fill="#c8c8c8" /><rect x="258.4" y="404" width="0.5" height="9" fill="#c8c8c8" /><rect x="262.8" y="404" width="0.5" height="9" fill="#c8c8c8" /><rect x="267.2" y="404" width="0.5" height="9" fill="#c8c8c8" /><rect x="271.6" y="404" width="0.5" height="9" fill="#c8c8c8" /><rect x="276.0" y="404" width="0.5" height="9" fill="#c8c8c8" /><rect x="253" y="408.5" width="27" height="0.6" fill="#d8d8d8" /><rect x="283.2" y="401.8" width="27.6" height="14.4" fill="none" stroke="#707040" stroke-width="0.6"/><rect x="285" y="403.5" width="24" height="10.5" fill="#1a2a24" /><ellipse cx="298.6" cy="411.9" rx="1.6" ry="0.9" fill="none" stroke="#60c0d8" stroke-width="0.6"/><ellipse cx="291.0" cy="409.7" rx="1.0" ry="1.2" fill="none" stroke="#60c0d8" stroke-width="0.6"/><ellipse cx="298.2" cy="410.3" rx="1.9" ry="1.1" fill="none" stroke="#d0d0d0" stroke-width="0.6"/><ellipse cx="295.3" cy="405.4" rx="1.4" ry="0.8" fill="none" stroke="#e0e0e0" stroke-width="0.6"/><ellipse cx="302.3" cy="407.8" rx="1.8" ry="1.1" fill="none" stroke="#d0d0d0" stroke-width="0.6"/><ellipse cx="292.5" cy="406.0" rx="1.0" ry="1.0" fill="none" stroke="#e0e0e0" stroke-width="0.6"/><ellipse cx="300.4" cy="409.7" rx="1.1" ry="1.4" fill="none" stroke="#e0e0e0" stroke-width="0.6"/><ellipse cx="290.5" cy="404.6" rx="1.3" ry="0.8" fill="none" stroke="#50b060" stroke-width="0.6"/><ellipse cx="287.0" cy="406.9" rx="0.9" ry="0.7" fill="none" stroke="#60c0d8" stroke-width="0.6"/><ellipse cx="295.9" cy="407.3" rx="1.5" ry="1.4" fill="none" stroke="#60c0d8" stroke-width="0.6"/><ellipse cx="296.4" cy="407.5" rx="2.0" ry="0.6" fill="none" stroke="#50b060" stroke-width="0.6"/><ellipse cx="300.0" cy="408.6" rx="1.2" ry="1.5" fill="none" stroke="#50b060" stroke-width="0.6"/><ellipse cx="287.7" cy="409.1" rx="1.9" ry="1.3" fill="none" stroke="#e0e0e0" stroke-width="0.6"/><ellipse cx="301.5" cy="411.2" rx="1.2" ry="1.2" fill="none" stroke="#50b060" stroke-width="0.6"/><ellipse cx="305.8" cy="411.9" rx="1.9" ry="0.6" fill="none" stroke="#d0d0d0" stroke-width="0.6"/><ellipse cx="297.0" cy="404.6" rx="1.3" ry="0.6" fill="none" stroke="#d0d0d0" stroke-width="0.6"/><ellipse cx="287.6" cy="405.3" rx="2.0" ry="1.4" fill="none" stroke="#e0e0e0" stroke-width="0.6"/><ellipse cx="302.0" cy="407.8" rx="1.3" ry="1.4" fill="none" stroke="#d0d0d0" stroke-width="0.6"/><ellipse cx="287.8" cy="410.9" rx="1.2" ry="0.7" fill="none" stroke="#e0e0e0" stroke-width="0.6"/><ellipse cx="286.5" cy="412.6" rx="1.4" ry="1.2" fill="none" stroke="#e0e0e0" stroke-width="0.6"/><ellipse cx="306.3" cy="406.7" rx="1.2" ry="0.7" fill="none" stroke="#e0e0e0" stroke-width="0.6"/><ellipse cx="299.5" cy="408.9" rx="1.6" ry="1.0" fill="none" stroke="#50b060" stroke-width="0.6"/><ellipse cx="305.6" cy="407.3" rx="1.0" ry="1.0" fill="none" stroke="#50b060" stroke-width="0.6"/><ellipse cx="303.7" cy="412.3" rx="1.3" ry="1.1" fill="none" stroke="#60c0d8" stroke-width="0.6"/><rect x="303" y="404" width="5" height="8" fill="#60c0d8" opacity="0.5"/><rect x="252" y="416.5" width="60" height="0.8" fill="#a0a040" /><rect x="322.92" y="385" width="0.5" height="42.60000000000002" fill="#505050" /><rect x="328.02" y="385" width="0.5" height="42.60000000000002" fill="#505050" /><rect x="333.12" y="385" width="0.5" height="42.60000000000002" fill="#505050" /><rect x="316.8" y="385.0" width="20.399999999999977" height="0.4" fill="#505050" /><rect x="317.40000000000003" y="385.4840909090909" width="3.1033545830110714" height="0.9681818181818187" fill="#86348e" /><rect x="323.52000000000004" y="385.4840909090909" width="3.2890060720541876" height="0.9681818181818187" fill="#86348e" /><rect x="328.62" y="385.4840909090909" width="2.8890471072278547" height="0.9681818181818187" fill="#86348e" /><rect x="333.72" y="385.4840909090909" width="2.7407971908626023" height="0.9681818181818187" fill="#86348e" /><rect x="316.8" y="386.93636363636364" width="20.399999999999977" height="0.4" fill="#505050" /><rect x="317.40000000000003" y="387.42045454545456" width="4.171233717513584" height="0.9681818181818187" fill="#86348e" /><rect x="323.52000000000004" y="387.42045454545456" width="2.1903887319553568" height="0.9681818181818187" fill="#86348e" /><rect x="328.62" y="387.42045454545456" width="2.0702205406184455" height="0.9681818181818187" fill="#86348e" /><rect x="333.72" y="387.42045454545456" width="3.169593234729088" height="0.9681818181818187" fill="#86348e" /><rect x="316.8" y="388.8727272727273" width="20.399999999999977" height="0.4" fill="#505050" /><rect x="317.40000000000003" y="389.3568181818182" width="3.1622609554593355" height="0.9681818181818187" fill="#86348e" /><rect x="323.52000000000004" y="389.3568181818182" width="2.577789555602151" height="0.9681818181818187" fill="#86348e" /><rect x="328.62" y="389.3568181818182" width="4.325004897496531" height="0.9681818181818187" fill="#86348e" /><rect x="333.72" y="389.3568181818182" width="2.495403799811205" height="0.9681818181818187" fill="#86348e" /><rect x="316.8" y="390.8090909090909" width="20.399999999999977" height="0.4" fill="#505050" /><rect x="317.40000000000003" y="391.29318181818184" width="4.7516148368096705" height="0.9681818181818187" fill="#86348e" /><rect x="323.52000000000004" y="391.29318181818184" width="3.1332306139649524" height="0.9681818181818187" fill="#86348e" /><rect x="328.62" y="391.29318181818184" width="3.5066613825488675" height="0.9681818181818187" fill="#86348e" /><rect x="333.72" y="391.29318181818184" width="1.9085317545071825" height="0.9681818181818187" fill="#86348e" /><rect x="316.8" y="392.74545454545455" width="20.399999999999977" height="0.4" fill="#505050" /><rect x="317.40000000000003" y="393.2295454545455" width="4.196406252917412" height="0.9681818181818187" fill="#86348e" /><rect x="323.52000000000004" y="393.2295454545455" width="4.03216397989384" height="0.9681818181818187" fill="#86348e" /><rect x="328.62" y="393.2295454545455" width="3.240700877829691" height="0.9681818181818187" fill="#86348e" /><rect x="333.72" y="393.2295454545455" width="2.9929384079859243" height="0.9681818181818187" fill="#86348e" /><rect x="316.8" y="394.6818181818182" width="20.399999999999977" height="0.4" fill="#505050" /><rect x="317.40000000000003" y="395.1659090909091" width="4.297067203167861" height="0.9681818181818187" fill="#86348e" /><rect x="323.52000000000004" y="395.1659090909091" width="2.1869521507309444" height="0.9681818181818187" fill="#86348e" /><rect x="328.62" y="395.1659090909091" width="3.780138415228263" height="0.9681818181818187" fill="#86348e" /><rect x="333.72" y="395.1659090909091" width="2.717258834261888" height="0.9681818181818187" fill="#86348e" /><rect x="316.8" y="396.6181818181818" width="20.399999999999977" height="0.4" fill="#505050" /><rect x="317.40000000000003" y="397.10227272727275" width="3.277691134306274" height="0.9681818181818187" fill="#86348e" /><rect x="323.52000000000004" y="397.10227272727275" width="2.111171969623062" height="0.9681818181818187" fill="#86348e" /><rect x="328.62" y="397.10227272727275" width="4.026385008866698" height="0.9681818181818187" fill="#86348e" /><rect x="333.72" y="397.10227272727275" width="2.4999673267897875" height="0.9681818181818187" fill="#86348e" /><rect x="316.8" y="398.55454545454546" width="20.399999999999977" height="0.4" fill="#505050" /><rect x="317.40000000000003" y="399.0386363636364" width="4.427641086877225" height="0.9681818181818187" fill="#86348e" /><rect x="323.52000000000004" y="399.0386363636364" width="4.056875376586303" height="0.9681818181818187" fill="#86348e" /><rect x="328.62" y="399.0386363636364" width="3.6789271648877264" height="0.9681818181818187" fill="#86348e" /><rect x="333.72" y="399.0386363636364" width="3.32313715368398" height="0.9681818181818187" fill="#86348e" /><rect x="316.8" y="400.4909090909091" width="20.399999999999977" height="0.4" fill="#505050" /><rect x="317.40000000000003" y="400.975" width="3.5357292146180512" height="0.9681818181818187" fill="#86348e" /><rect x="323.52000000000004" y="400.975" width="3.878085629411073" height="0.9681818181818187" fill="#86348e" /><rect x="328.62" y="400.975" width="3.060405323636509" height="0.9681818181818187" fill="#86348e" /><rect x="333.72" y="400.975" width="3.3497372210494873" height="0.9681818181818187" fill="#86348e" /><rect x="316.8" y="402.42727272727274" width="20.399999999999977" height="0.4" fill="#505050" /><rect x="317.40000000000003" y="402.91136363636366" width="4.868398782570971" height="0.9681818181818187" fill="#86348e" /><rect x="323.52000000000004" y="402.91136363636366" width="2.263657640832348" height="0.9681818181818187" fill="#86348e" /><rect x="328.62" y="402.91136363636366" width="2.3520485341605455" height="0.9681818181818187" fill="#86348e" /><rect x="333.72" y="402.91136363636366" width="2.0303880241040324" height="0.9681818181818187" fill="#86348e" /><rect x="316.8" y="404.3636363636364" width="20.399999999999977" height="0.4" fill="#505050" /><rect x="317.40000000000003" y="404.8477272727273" width="5.106932302525655" height="0.9681818181818187" fill="#86348e" /><rect x="323.52000000000004" y="404.8477272727273" width="3.04099148390993" height="0.9681818181818187" fill="#86348e" /><rect x="328.62" y="404.8477272727273" width="3.478157827539331" height="0.9681818181818187" fill="#86348e" /><rect x="333.72" y="404.8477272727273" width="2.1846841003092194" height="0.9681818181818187" fill="#86348e" /><rect x="316.8" y="406.3" width="20.399999999999977" height="0.4" fill="#505050" /><rect x="317.40000000000003" y="406.78409090909093" width="3.844947177465233" height="0.9681818181818187" fill="#86348e" /><rect x="323.52000000000004" y="406.78409090909093" width="2.9255630640490318" height="0.9681818181818187" fill="#86348e" /><rect x="328.62" y="406.78409090909093" width="2.845339571727576" height="0.9681818181818187" fill="#86348e" /><rect x="333.72" y="406.78409090909093" width="2.706196061196237" height="0.9681818181818187" fill="#86348e" /><rect x="316.8" y="408.23636363636365" width="20.399999999999977" height="0.4" fill="#505050" /><rect x="317.40000000000003" y="408.7204545454546" width="4.057029437839931" height="0.9681818181818187" fill="#86348e" /><rect x="323.52000000000004" y="408.7204545454546" width="4.115143064095617" height="0.9681818181818187" fill="#86348e" /><rect x="328.62" y="408.7204545454546" width="3.605149003577264" height="0.9681818181818187" fill="#86348e" /><rect x="333.72" y="408.7204545454546" width="3.337544123803218" height="0.9681818181818187" fill="#86348e" /><rect x="316.8" y="410.1727272727273" width="20.399999999999977" height="0.4" fill="#505050" /><rect x="317.40000000000003" y="410.6568181818182" width="4.806527159856668" height="0.9681818181818187" fill="#86348e" /><rect x="323.52000000000004" y="410.6568181818182" width="4.314321234973902" height="0.9681818181818187" fill="#86348e" /><rect x="328.62" y="410.6568181818182" width="3.5805727792629956" height="0.9681818181818187" fill="#86348e" /><rect x="333.72" y="410.6568181818182" width="1.9314509059388765" height="0.9681818181818187" fill="#86348e" /><rect x="316.8" y="412.1090909090909" width="20.399999999999977" height="0.4" fill="#505050" /><rect x="317.40000000000003" y="412.59318181818185" width="4.818195766202206" height="0.9681818181818187" fill="#86348e" /><rect x="323.52000000000004" y="412.59318181818185" width="4.253832614074268" height="0.9681818181818187" fill="#86348e" /><rect x="328.62" y="412.59318181818185" width="4.1162772844556015" height="0.9681818181818187" fill="#86348e" /><rect x="333.72" y="412.59318181818185" width="2.6768813763788475" height="0.9681818181818187" fill="#86348e" /><rect x="316.8" y="414.04545454545456" width="20.399999999999977" height="0.4" fill="#505050" /><rect x="317.40000000000003" y="414.5295454545455" width="4.413852073559748" height="0.9681818181818187" fill="#86348e" /><rect x="323.52000000000004" y="414.5295454545455" width="2.5245318375354815" height="0.9681818181818187" fill="#86348e" /><rect x="328.62" y="414.5295454545455" width="3.9485401999773657" height="0.9681818181818187" fill="#86348e" /><rect x="333.72" y="414.5295454545455" width="2.6850053989169482" height="0.9681818181818187" fill="#86348e" /><rect x="316.8" y="415.9818181818182" width="20.399999999999977" height="0.4" fill="#505050" /><rect x="317.40000000000003" y="416.4659090909091" width="3.2327728503100115" height="0.9681818181818187" fill="#86348e" /><rect x="323.52000000000004" y="416.4659090909091" width="2.185642024548287" height="0.9681818181818187" fill="#86348e" /><rect x="328.62" y="416.4659090909091" width="3.999798010930069" height="0.9681818181818187" fill="#86348e" /><rect x="333.72" y="416.4659090909091" width="3.4492838433960094" height="0.9681818181818187" fill="#86348e" /><rect x="316.8" y="417.91818181818184" width="20.399999999999977" height="0.4" fill="#505050" /><rect x="317.40000000000003" y="418.40227272727276" width="2.691778828424194" height="0.9681818181818187" fill="#86348e" /><rect x="323.52000000000004" y="418.40227272727276" width="3.877366262285941" height="0.9681818181818187" fill="#86348e" /><rect x="328.62" y="418.40227272727276" width="2.982009893758874" height="0.9681818181818187" fill="#86348e" /><rect x="333.72" y="418.40227272727276" width="1.908805227495351" height="0.9681818181818187" fill="#86348e" /><rect x="316.8" y="419.8545454545455" width="20.399999999999977" height="0.4" fill="#505050" /><rect x="317.40000000000003" y="420.3386363636364" width="3.2573764937396996" height="0.9681818181818187" fill="#86348e" /><rect x="323.52000000000004" y="420.3386363636364" width="3.8043773813014803" height="0.9681818181818187" fill="#86348e" /><rect x="328.62" y="420.3386363636364" width="4.04300032152174" height="0.9681818181818187" fill="#86348e" /><rect x="333.72" y="420.3386363636364" width="1.713132952233835" height="0.9681818181818187" fill="#86348e" /><rect x="316.8" y="421.7909090909091" width="20.399999999999977" height="0.4" fill="#505050" /><rect x="317.40000000000003" y="422.27500000000003" width="4.140422583576604" height="0.9681818181818187" fill="#86348e" /><rect x="323.52000000000004" y="422.27500000000003" width="2.1431378588233887" height="0.9681818181818187" fill="#86348e" /><rect x="328.62" y="422.27500000000003" width="3.688820895744361" height="0.9681818181818187" fill="#86348e" /><rect x="333.72" y="422.27500000000003" width="2.2396318120908894" height="0.9681818181818187" fill="#86348e" /><rect x="316.8" y="423.72727272727275" width="20.399999999999977" height="0.4" fill="#505050" /><rect x="317.40000000000003" y="424.21136363636367" width="4.874013216159227" height="0.9681818181818187" fill="#86348e" /><rect x="323.52000000000004" y="424.21136363636367" width="4.2905590619554355" height="0.9681818181818187" fill="#86348e" /><rect x="328.62" y="424.21136363636367" width="3.199939757522275" height="0.9681818181818187" fill="#86348e" /><rect x="333.72" y="424.21136363636367" width="3.465262423709912" height="0.9681818181818187" fill="#86348e" /><rect x="316.8" y="425.6636363636364" width="20.399999999999977" height="0.4" fill="#505050" /><rect x="317.40000000000003" y="426.1477272727273" width="3.3008313272738405" height="0.9681818181818187" fill="#86348e" /><rect x="323.52000000000004" y="426.1477272727273" width="2.216647767298906" height="0.9681818181818187" fill="#86348e" /><rect x="328.62" y="426.1477272727273" width="3.4164556461882136" height="0.9681818181818187" fill="#86348e" /><rect x="333.72" y="426.1477272727273" width="1.689609571353877" height="0.9681818181818187" fill="#86348e" /><rect x="316.8" y="427.6" width="20.399999999999977" height="0.5" fill="#505050" /><rect x="258.45" y="418.6" width="0.5" height="18.599999999999966" fill="#505050" /><rect x="264.75" y="418.6" width="0.5" height="18.599999999999966" fill="#505050" /><rect x="249" y="418.6" width="21" height="0.4" fill="#505050" /><rect x="249.6" y="419.065" width="4.619379101961848" height="0.9299999999999983" fill="#86348e" /><rect x="259.05" y="419.065" width="3.676498944474176" height="0.9299999999999983" fill="#86348e" /><rect x="265.35" y="419.065" width="3.542228578010344" height="0.9299999999999983" fill="#86348e" /><rect x="249" y="420.46000000000004" width="21" height="0.4" fill="#505050" /><rect x="249.6" y="420.925" width="4.4442362092851795" height="0.9299999999999983" fill="#86348e" /><rect x="259.05" y="420.925" width="2.640305563084619" height="0.9299999999999983" fill="#86348e" /><rect x="265.35" y="420.925" width="4.150127967654244" height="0.9299999999999983" fill="#86348e" /><rect x="249" y="422.32" width="21" height="0.4" fill="#505050" /><rect x="249.6" y="422.78499999999997" width="5.114564285943174" height="0.9299999999999983" fill="#86348e" /><rect x="259.05" y="422.78499999999997" width="5.237799473867979" height="0.9299999999999983" fill="#86348e" /><rect x="265.35" y="422.78499999999997" width="4.218358402872708" height="0.9299999999999983" fill="#86348e" /><rect x="249" y="424.18" width="21" height="0.4" fill="#505050" /><rect x="249.6" y="424.645" width="5.3865487406003005" height="0.9299999999999983" fill="#86348e" /><rect x="259.05" y="424.645" width="3.825261309118147" height="0.9299999999999983" fill="#86348e" /><rect x="265.35" y="424.645" width="3.3286724260999323" height="0.9299999999999983" fill="#86348e" /><rect x="249" y="426.04" width="21" height="0.4" fill="#505050" /><rect x="249.6" y="426.505" width="6.5181367749438" height="0.9299999999999983" fill="#86348e" /><rect x="259.05" y="426.505" width="4.208668425869594" height="0.9299999999999983" fill="#86348e" /><rect x="265.35" y="426.505" width="3.4212542590113597" height="0.9299999999999983" fill="#86348e" /><rect x="249" y="427.9" width="21" height="0.4" fill="#505050" /><rect x="249.6" y="428.36499999999995" width="6.41708639098097" height="0.9299999999999983" fill="#86348e" /><rect x="259.05" y="428.36499999999995" width="5.186661259126945" height="0.9299999999999983" fill="#86348e" /><rect x="265.35" y="428.36499999999995" width="3.2978508526716213" height="0.9299999999999983" fill="#86348e" /><rect x="249" y="429.76" width="21" height="0.4" fill="#505050" /><rect x="249.6" y="430.22499999999997" width="5.613642080965035" height="0.9299999999999983" fill="#86348e" /><rect x="259.05" y="430.22499999999997" width="4.562082399828641" height="0.9299999999999983" fill="#86348e" /><rect x="265.35" y="430.22499999999997" width="2.6614141509855527" height="0.9299999999999983" fill="#86348e" /><rect x="249" y="431.62" width="21" height="0.4" fill="#505050" /><rect x="249.6" y="432.085" width="5.060371877143064" height="0.9299999999999983" fill="#86348e" /><rect x="259.05" y="432.085" width="5.292055392131891" height="0.9299999999999983" fill="#86348e" /><rect x="265.35" y="432.085" width="3.3311632303768492" height="0.9299999999999983" fill="#86348e" /><rect x="249" y="433.48" width="21" height="0.4" fill="#505050" /><rect x="249.6" y="433.945" width="6.112200563838374" height="0.9299999999999983" fill="#86348e" /><rect x="259.05" y="433.945" width="2.552481973842566" height="0.9299999999999983" fill="#86348e" /><rect x="265.35" y="433.945" width="3.0809344372366714" height="0.9299999999999983" fill="#86348e" /><rect x="249" y="435.34" width="21" height="0.4" fill="#505050" /><rect x="249.6" y="435.80499999999995" width="6.246302071672014" height="0.9299999999999983" fill="#86348e" /><rect x="259.05" y="435.80499999999995" width="2.576849944013544" height="0.9299999999999983" fill="#86348e" /><rect x="265.35" y="435.80499999999995" width="3.5548226363360316" height="0.9299999999999983" fill="#86348e" /><rect x="249" y="437.2" width="21" height="0.5" fill="#505050" /><rect x="280.81" y="418.6" width="0.5" height="18.599999999999966" fill="#505050" /><rect x="287.35" y="418.6" width="0.5" height="18.599999999999966" fill="#505050" /><rect x="271" y="418.6" width="21.80000000000001" height="0.4" fill="#505050" /><rect x="271.6" y="419.065" width="6.714760973064703" height="0.9299999999999983" fill="#86348e" /><rect x="281.41" y="419.065" width="2.7928169427773977" height="0.9299999999999983" fill="#86348e" /><rect x="287.95000000000005" y="419.065" width="3.7185540698493615" height="0.9299999999999983" fill="#86348e" /><rect x="271" y="420.46000000000004" width="21.80000000000001" height="0.4" fill="#505050" /><rect x="271.6" y="420.925" width="5.982262521896118" height="0.9299999999999983" fill="#86348e" /><rect x="281.41" y="420.925" width="4.615125154426168" height="0.9299999999999983" fill="#86348e" /><rect x="287.95000000000005" y="420.925" width="3.0446950509081625" height="0.9299999999999983" fill="#86348e" /><rect x="271" y="422.32" width="21.80000000000001" height="0.4" fill="#505050" /><rect x="271.6" y="422.78499999999997" width="7.044831875825762" height="0.9299999999999983" fill="#86348e" /><rect x="281.41" y="422.78499999999997" width="4.788034913268752" height="0.9299999999999983" fill="#86348e" /><rect x="287.95000000000005" y="422.78499999999997" width="2.2344025051999568" height="0.9299999999999983" fill="#86348e" /><rect x="271" y="424.18" width="21.80000000000001" height="0.4" fill="#505050" /><rect x="271.6" y="424.645" width="4.191416299694374" height="0.9299999999999983" fill="#86348e" /><rect x="281.41" y="424.645" width="4.6055277708213636" height="0.9299999999999983" fill="#86348e" /><rect x="287.95000000000005" y="424.645" width="4.542506935897286" height="0.9299999999999983" fill="#86348e" /><rect x="271" y="426.04" width="21.80000000000001" height="0.4" fill="#505050" /><rect x="271.6" y="426.505" width="5.032579297040931" height="0.9299999999999983" fill="#86348e" /><rect x="281.41" y="426.505" width="3.958926597519876" height="0.9299999999999983" fill="#86348e" /><rect x="287.95000000000005" y="426.505" width="3.633527775072057" height="0.9299999999999983" fill="#86348e" /><rect x="271" y="427.9" width="21.80000000000001" height="0.4" fill="#505050" /><rect x="271.6" y="428.36499999999995" width="5.336752065384576" height="0.9299999999999983" fill="#86348e" /><rect x="281.41" y="428.36499999999995" width="3.687119827927505" height="0.9299999999999983" fill="#86348e" /><rect x="287.95000000000005" y="428.36499999999995" width="2.946824796585418" height="0.9299999999999983" fill="#86348e" /><rect x="271" y="429.76" width="21.80000000000001" height="0.4" fill="#505050" /><rect x="271.6" y="430.22499999999997" width="5.553630223860115" height="0.9299999999999983" fill="#86348e" /><rect x="281.41" y="430.22499999999997" width="4.368914091738743" height="0.9299999999999983" fill="#86348e" /><rect x="287.95000000000005" y="430.22499999999997" width="2.916740744679102" height="0.9299999999999983" fill="#86348e" /><rect x="271" y="431.62" width="21.80000000000001" height="0.4" fill="#505050" /><rect x="271.6" y="432.085" width="5.588974326796505" height="0.9299999999999983" fill="#86348e" /><rect x="281.41" y="432.085" width="4.888800652823063" height="0.9299999999999983" fill="#86348e" /><rect x="287.95000000000005" y="432.085" width="2.246024255285377" height="0.9299999999999983" fill="#86348e" /><rect x="271" y="433.48" width="21.80000000000001" height="0.4" fill="#505050" /><rect x="271.6" y="433.945" width="6.436989450140587" height="0.9299999999999983" fill="#86348e" /><rect x="281.41" y="433.945" width="4.779614673679868" height="0.9299999999999983" fill="#86348e" /><rect x="287.95000000000005" y="433.945" width="2.9403159454932473" height="0.9299999999999983" fill="#86348e" /><rect x="271" y="435.34" width="21.80000000000001" height="0.4" fill="#505050" /><rect x="271.6" y="435.80499999999995" width="4.906393307010543" height="0.9299999999999983" fill="#86348e" /><rect x="281.41" y="435.80499999999995" width="4.981605973972245" height="0.9299999999999983" fill="#86348e" /><rect x="287.95000000000005" y="435.80499999999995" width="2.7653999213419516" height="0.9299999999999983" fill="#86348e" /><rect x="271" y="437.2" width="21.80000000000001" height="0.5" fill="#505050" /><rect x="302.4" y="422.8" width="0.5" height="14.399999999999977" fill="#505050" /><rect x="308.7" y="422.8" width="0.5" height="14.399999999999977" fill="#505050" /><rect x="294" y="422.8" width="21" height="0.4" fill="#505050" /><rect x="294.6" y="423.25" width="4.068350608669809" height="0.8999999999999986" fill="#86348e" /><rect x="303.0" y="423.25" width="3.753889298710554" height="0.8999999999999986" fill="#86348e" /><rect x="309.3" y="423.25" width="4.499018262923207" height="0.8999999999999986" fill="#86348e" /><rect x="294" y="424.6" width="21" height="0.4" fill="#505050" /><rect x="294.6" y="425.05" width="3.744961598148464" height="0.8999999999999986" fill="#86348e" /><rect x="303.0" y="425.05" width="3.432773566401291" height="0.8999999999999986" fill="#86348e" /><rect x="309.3" y="425.05" width="3.4661915990220007" height="0.8999999999999986" fill="#86348e" /><rect x="294" y="426.4" width="21" height="0.4" fill="#505050" /><rect x="294.6" y="426.84999999999997" width="6.51077701008661" height="0.8999999999999986" fill="#86348e" /><rect x="303.0" y="426.84999999999997" width="3.7629511268115388" height="0.8999999999999986" fill="#86348e" /><rect x="309.3" y="426.84999999999997" width="4.945442274947162" height="0.8999999999999986" fill="#86348e" /><rect x="294" y="428.2" width="21" height="0.4" fill="#505050" /><rect x="294.6" y="428.65" width="3.999894399063314" height="0.8999999999999986" fill="#86348e" /><rect x="303.0" y="428.65" width="3.474573516352243" height="0.8999999999999986" fill="#86348e" /><rect x="309.3" y="428.65" width="4.363408786789231" height="0.8999999999999986" fill="#86348e" /><rect x="294" y="430.0" width="21" height="0.4" fill="#505050" /><rect x="294.6" y="430.45" width="6.7049154678624525" height="0.8999999999999986" fill="#86348e" /><rect x="303.0" y="430.45" width="3.7988746924486123" height="0.8999999999999986" fill="#86348e" /><rect x="309.3" y="430.45" width="3.157953934119384" height="0.8999999999999986" fill="#86348e" /><rect x="294" y="431.8" width="21" height="0.4" fill="#505050" /><rect x="294.6" y="432.25" width="3.8170750474048725" height="0.8999999999999986" fill="#86348e" /><rect x="303.0" y="432.25" width="4.021494326254302" height="0.8999999999999986" fill="#86348e" /><rect x="309.3" y="432.25" width="3.0609287895889965" height="0.8999999999999986" fill="#86348e" /><rect x="294" y="433.6" width="21" height="0.4" fill="#505050" /><rect x="294.6" y="434.05" width="6.409617958224212" height="0.8999999999999986" fill="#86348e" /><rect x="303.0" y="434.05" width="4.897080534545028" height="0.8999999999999986" fill="#86348e" /><rect x="309.3" y="434.05" width="3.0404671982204055" height="0.8999999999999986" fill="#86348e" /><rect x="294" y="435.4" width="21" height="0.4" fill="#505050" /><rect x="294.6" y="435.84999999999997" width="4.413078296822406" height="0.8999999999999986" fill="#86348e" /><rect x="303.0" y="435.84999999999997" width="4.808486895503322" height="0.8999999999999986" fill="#86348e" /><rect x="309.3" y="435.84999999999997" width="4.33989212216802" height="0.8999999999999986" fill="#86348e" /><rect x="294" y="437.2" width="21" height="0.5" fill="#505050" /><rect x="316.8" y="428" width="20.4" height="9.5" fill="none" stroke="#c0c0c0" stroke-width="0.5"/><rect x="318" y="431" width="3" height="4" fill="#d0d0d0" /><rect x="326" y="430.5" width="8" height="1" fill="#d0d0d0" /><rect x="326" y="433" width="8" height="1" fill="#d0d0d0" /><rect x="322.8" y="374.2" width="14.4" height="3.6" fill="#3a3a3a" /></g><rect x="243.25" y="373.25" width="95.60000000000002" height="64.80000000000001" fill="none" stroke="#a8a8a8" stroke-width="1.5"/><g filter="url(#bl)"><rect x="334.3" y="439.6" width="83.59999999999997" height="63.69999999999999" fill="#0a0606" /><rect x="337" y="441.5" width="1.2" height="0.8" fill="#8a8a50" /><rect x="340" y="441.5" width="1.2" height="0.8" fill="#8a8a50" /><rect x="343" y="441.5" width="1.2" height="0.8" fill="#8a8a50" /><rect x="346" y="441.5" width="1.2" height="0.8" fill="#8a8a50" /><rect x="349" y="441.5" width="1.2" height="0.8" fill="#8a8a50" /><rect x="352" y="441.5" width="1.2" height="0.8" fill="#8a8a50" /><rect x="355" y="441.5" width="1.2" height="0.8" fill="#8a8a50" /><rect x="358" y="441.5" width="1.2" height="0.8" fill="#8a8a50" /><rect x="361" y="441.5" width="1.2" height="0.8" fill="#8a8a50" /><rect x="364" y="441.5" width="1.2" height="0.8" fill="#8a8a50" /><rect x="367" y="441.5" width="1.2" height="0.8" fill="#8a8a50" /><rect x="370" y="441.5" width="1.2" height="0.8" fill="#8a8a50" /><rect x="373" y="441.5" width="1.2" height="0.8" fill="#8a8a50" /><rect x="376" y="441.5" width="1.2" height="0.8" fill="#8a8a50" /><rect x="379" y="441.5" width="1.2" height="0.8" fill="#8a8a50" /><rect x="382" y="441.5" width="1.2" height="0.8" fill="#8a8a50" /><rect x="385" y="441.5" width="1.2" height="0.8" fill="#8a8a50" /><rect x="388" y="441.5" width="1.2" height="0.8" fill="#8a8a50" /><rect x="391" y="441.5" width="1.2" height="0.8" fill="#8a8a50" /><rect x="394" y="441.5" width="1.2" height="0.8" fill="#8a8a50" /><rect x="397" y="441.5" width="1.2" height="0.8" fill="#8a8a50" /><rect x="400" y="441.5" width="1.2" height="0.8" fill="#8a8a50" /><rect x="403" y="441.5" width="1.2" height="0.8" fill="#8a8a50" /><rect x="406" y="441.5" width="1.2" height="0.8" fill="#8a8a50" /><rect x="409" y="441.5" width="1.2" height="0.8" fill="#8a8a50" /><rect x="412" y="441.5" width="1.2" height="0.8" fill="#8a8a50" /><rect x="415" y="441.5" width="1.2" height="0.8" fill="#8a8a50" /><rect x="339.6" y="445.9" width="24.5" height="52.5" fill="none" stroke="#8a5a5a" stroke-width="0.8"/><rect x="357" y="445.9" width="3" height="40" fill="#4a4a4a" /><rect x="349" y="445.9" width="0.7" height="52" fill="#a03030" /><rect x="342.5" y="446" width="0.6" height="52" fill="#a06060" /><rect x="340" y="461" width="27" height="0.6" fill="#3050b0" /><rect x="340" y="462.8" width="27" height="0.6" fill="#3050b0" /><rect x="340" y="467.5" width="27" height="0.6" fill="#3050b0" /><rect x="340" y="471" width="27" height="0.6" fill="#3050b0" /><rect x="340" y="474.5" width="27" height="0.6" fill="#3050b0" /><rect x="340" y="482.1" width="27" height="0.6" fill="#3050b0" /><polyline points="344.8,460.5 351.8,472.2 344.8,482.7" fill="none" stroke="#d0a030" stroke-width="1.4" /><polyline points="346,462 352.8,472.2 346,481" fill="none" stroke="#6090e0" stroke-width="0.6" /><circle cx="351.8" cy="472.2" r="1.4" fill="#e06070"/><rect x="342" y="449" width="1.2" height="1.2" fill="#e04080" /><rect x="362" y="449" width="1.2" height="1.2" fill="#e04080" /><rect x="342" y="496" width="1.2" height="1.2" fill="#e04080" /><rect x="362" y="496" width="1.2" height="1.2" fill="#e04080" /><rect x="357" y="443" width="3" height="1.5" fill="#50b0c0" /><rect x="369.5" y="444.2" width="4.6" height="53.7" fill="none" stroke="#7a3a6a" stroke-width="0.8"/><rect x="368" y="443" width="7" height="2.2" fill="#d03040" /><rect x="370" y="446" width="4" height="2" fill="#60a0c0" /><rect x="369" y="494" width="6" height="3" fill="#c04080" /><rect x="372" y="458.2" width="12" height="5" fill="#3a7a7a" opacity="0.8"/><rect x="374" y="459.2" width="8" height="1.5" fill="#e0e0e0" opacity="0.8"/><rect x="373" y="461.2" width="10" height="0.8" fill="#40c060" /><rect x="372" y="470" width="8" height="5" fill="#3a7a7a" opacity="0.8"/><rect x="374" y="471" width="4" height="1.5" fill="#e0e0e0" opacity="0.8"/><rect x="373" y="473" width="6" height="0.8" fill="#40c060" /><rect x="372" y="479.2" width="12" height="4.8" fill="#3a7a7a" opacity="0.8"/><rect x="374" y="480.2" width="8" height="1.5" fill="#e0e0e0" opacity="0.8"/><rect x="373" y="482.2" width="10" height="0.8" fill="#40c060" /><rect x="389" y="462" width="8" height="5" fill="#4060a0" opacity="0.8"/><rect x="390" y="463" width="6" height="1.5" fill="#60c080" /><rect x="390.5" y="476" width="6" height="5" fill="#3a6a8a" opacity="0.8"/><rect x="392" y="477" width="3" height="1.5" fill="#c0e0e0" /><rect x="395" y="486" width="6" height="0.6" fill="#aaa" /><rect x="392.1" y="446.5" width="10.5" height="9.9" fill="none" stroke="#8a9040" stroke-width="0.8"/><circle cx="397.3" cy="451.4" r="2.5" fill="none" stroke="#c0b040" stroke-width="0.7"/><rect x="405.5" y="445.3" width="10.5" height="35.7" fill="none" stroke="#a0a0a0" stroke-width="0.5"/><rect x="408" y="447" width="5" height="1.5" fill="#e0e0e0" /><polyline points="410,457 411,460 409,462 410,465" fill="none" stroke="#e05050" stroke-width="1" /><rect x="408" y="466" width="5" height="4" fill="#c8c8c8" /><rect x="408" y="473" width="5" height="5" fill="#c8c8c8" /><rect x="407.9" y="483.3" width="8.1" height="9.3" fill="#1a2a60" /><rect x="408.5" y="484" width="7" height="0.5" fill="#5080c0" /><rect x="393.9" y="493.2" width="22.7" height="8.2" fill="#0a1830" /><rect x="394.5" y="494.5" width="21" height="0.9" fill="#4090c0" /><rect x="394.5" y="496.8" width="21" height="0.9" fill="#4090c0" /><rect x="394.5" y="499" width="21" height="0.9" fill="#4090c0" /><rect x="378" y="496.7" width="10" height="2" fill="#40a0a0" /><rect x="337" y="500.5" width="20" height="0.8" fill="#4090c0" /></g><rect x="335.05" y="440.35" width="82.09999999999997" height="62.19999999999999" fill="none" stroke="#a8a8a8" stroke-width="1.5"/><g filter="url(#bl)"><rect x="417.3" y="372.4" width="81.39999999999998" height="68.60000000000002" fill="#f2f2f2" /><rect x="419" y="373" width="0.4" height="37" fill="#e2e2e2" /><rect x="422" y="373" width="0.4" height="37" fill="#e2e2e2" /><rect x="425" y="373" width="0.4" height="37" fill="#e2e2e2" /><rect x="428" y="373" width="0.4" height="37" fill="#e2e2e2" /><rect x="431" y="373" width="0.4" height="37" fill="#e2e2e2" /><rect x="434" y="373" width="0.4" height="37" fill="#e2e2e2" /><rect x="437" y="373" width="0.4" height="37" fill="#e2e2e2" /><rect x="440" y="373" width="0.4" height="37" fill="#e2e2e2" /><rect x="443" y="373" width="0.4" height="37" fill="#e2e2e2" /><rect x="446" y="373" width="0.4" height="37" fill="#e2e2e2" /><rect x="449" y="373" width="0.4" height="37" fill="#e2e2e2" /><rect x="452" y="373" width="0.4" height="37" fill="#e2e2e2" /><rect x="455" y="373" width="0.4" height="37" fill="#e2e2e2" /><rect x="458" y="373" width="0.4" height="37" fill="#e2e2e2" /><rect x="461" y="373" width="0.4" height="37" fill="#e2e2e2" /><rect x="464" y="373" width="0.4" height="37" fill="#e2e2e2" /><rect x="467" y="373" width="0.4" height="37" fill="#e2e2e2" /><rect x="470" y="373" width="0.4" height="37" fill="#e2e2e2" /><rect x="473" y="373" width="0.4" height="37" fill="#e2e2e2" /><rect x="476" y="373" width="0.4" height="37" fill="#e2e2e2" /><rect x="479" y="373" width="0.4" height="37" fill="#e2e2e2" /><rect x="482" y="373" width="0.4" height="37" fill="#e2e2e2" /><rect x="485" y="373" width="0.4" height="37" fill="#e2e2e2" /><rect x="488" y="373" width="0.4" height="37" fill="#e2e2e2" /><rect x="491" y="373" width="0.4" height="37" fill="#e2e2e2" /><rect x="494" y="373" width="0.4" height="37" fill="#e2e2e2" /><rect x="497" y="373" width="0.4" height="37" fill="#e2e2e2" /><rect x="418" y="375" width="80" height="0.4" fill="#e2e2e2" /><rect x="418" y="378" width="80" height="0.4" fill="#e2e2e2" /><rect x="418" y="381" width="80" height="0.4" fill="#e2e2e2" /><rect x="418" y="384" width="80" height="0.4" fill="#e2e2e2" /><rect x="418" y="387" width="80" height="0.4" fill="#e2e2e2" /><rect x="418" y="390" width="80" height="0.4" fill="#e2e2e2" /><rect x="418" y="393" width="80" height="0.4" fill="#e2e2e2" /><rect x="418" y="396" width="80" height="0.4" fill="#e2e2e2" /><rect x="418" y="399" width="80" height="0.4" fill="#e2e2e2" /><rect x="418" y="402" width="80" height="0.4" fill="#e2e2e2" /><rect x="418" y="405" width="80" height="0.4" fill="#e2e2e2" /><rect x="418" y="408" width="80" height="0.4" fill="#e2e2e2" /><rect x="435.6" y="373.7" width="43.1" height="29" fill="#6a6a66" /><rect x="435.6" y="373.7" width="43.1" height="7" fill="#3a3836" /><rect x="440" y="374" width="4" height="6" fill="#6a4a3a" /><rect x="444.5" y="374.5" width="3.5" height="5.5" fill="#3a70b0" /><rect x="435.6" y="381" width="43.1" height="12" fill="#4a4846" /><polygon points="437,385 442,382 472,381.5 477,383 477,389 472,392 442,392.5 437,390" fill="#2a2020" /><polygon points="437,385 442,382 472,381.5 477,383 477,389 472,392 442,392.5 437,390" fill="none" stroke="#a82828" stroke-width="0.9"/><rect x="437.5" y="386.5" width="39" height="1.6" fill="#5a4a4a" /><polyline points="452,386 466,385" fill="none" stroke="#40b040" stroke-width="0.8" /><polyline points="444,396 470,396" fill="none" stroke="#4050c0" stroke-width="0.7" /><polyline points="470,375 478,378" fill="none" stroke="#e0e0e0" stroke-width="0.8" /><rect x="418.9" y="377.4" width="8.7" height="4" fill="#ffffff" stroke="#a0a0a0" stroke-width="0.4"/><rect x="421.5" y="378.9" width="3" height="0.9" fill="#888" /><rect x="486.7" y="377.4" width="9.3" height="4" fill="#ffffff" stroke="#a0a0a0" stroke-width="0.4"/><rect x="490" y="378.9" width="3" height="0.9" fill="#888" /><rect x="418.9" y="383.6" width="8.7" height="4" fill="#ffffff" stroke="#a0a0a0" stroke-width="0.4"/><rect x="421.5" y="385.1" width="3" height="0.9" fill="#888" /><rect x="486.7" y="383.6" width="9.3" height="4" fill="#ffffff" stroke="#a0a0a0" stroke-width="0.4"/><rect x="490" y="385.1" width="3" height="0.9" fill="#888" /><rect x="418.9" y="389.7" width="8.7" height="4" fill="#ffffff" stroke="#a0a0a0" stroke-width="0.4"/><rect x="421.5" y="391.2" width="3" height="0.9" fill="#888" /><rect x="486.7" y="389.7" width="9.3" height="4" fill="#ffffff" stroke="#a0a0a0" stroke-width="0.4"/><rect x="490" y="391.2" width="3" height="0.9" fill="#888" /><rect x="418.9" y="395.9" width="8.7" height="4" fill="#ffffff" stroke="#a0a0a0" stroke-width="0.4"/><rect x="421.5" y="397.4" width="3" height="0.9" fill="#888" /><rect x="486.7" y="395.9" width="9.3" height="4" fill="#ffffff" stroke="#a0a0a0" stroke-width="0.4"/><rect x="490" y="397.4" width="3" height="0.9" fill="#888" /><polyline points="427.6,379.5 436,379.5" fill="none" stroke="#e08040" stroke-width="0.5" /><polyline points="427.6,385.6 436,385.6" fill="none" stroke="#e04040" stroke-width="0.5" /><polyline points="478,379.5 486.7,379.5" fill="none" stroke="#4050c0" stroke-width="0.5" /><polyline points="478,385.6 486.7,385.6" fill="none" stroke="#e04040" stroke-width="0.5" /><polyline points="427.6,397.8 432,397.8 432,392 436,392" fill="none" stroke="#c080d0" stroke-width="0.5" /><polyline points="478,392 482,392 482,397.8 486.7,397.8" fill="none" stroke="#c080d0" stroke-width="0.5" /><rect x="437.4" y="405.7" width="9.9" height="4.3" fill="#ffffff" stroke="#a0a0a0" stroke-width="0.4"/><rect x="441.4" y="407.5" width="2" height="0.9" fill="#888" /><rect x="452.2" y="405.7" width="9.9" height="4.3" fill="#ffffff" stroke="#a0a0a0" stroke-width="0.4"/><rect x="456.2" y="407.5" width="2" height="0.9" fill="#888" /><rect x="467.6" y="405.7" width="9.9" height="4.3" fill="#ffffff" stroke="#a0a0a0" stroke-width="0.4"/><rect x="471.6" y="407.5" width="2" height="0.9" fill="#888" /><rect x="418.7" y="410.7" width="38.4" height="28.3" fill="#8a948e" /><rect x="418.7" y="410.7" width="38.4" height="5" fill="#3e4440" /><rect x="418.7" y="430" width="38.4" height="9" fill="#9aa49e" /><ellipse cx="438" cy="424" rx="18" ry="3.6" fill="#d8dcd8" stroke="#b02828" stroke-width="0.8"/><rect x="419" y="429.5" width="38" height="1.2" fill="#2a40a0" /><rect x="436.5" y="411" width="2.5" height="4" fill="#ffffff" /><rect x="443" y="434" width="3" height="4" fill="#ffffff" /><rect x="457.8" y="410.7" width="39.4" height="28.3" fill="#ffffff" stroke="#b8b8b8" stroke-width="0.5"/><rect x="467" y="410.7" width="0.5" height="28.3" fill="#b8b8b8" /><rect x="457.8" y="427.3" width="39.4" height="0.5" fill="#b8b8b8" /><rect x="461" y="417" width="2.5" height="4" fill="#909090" /><rect x="461" y="433" width="2.5" height="4" fill="#909090" /><rect x="471.5" y="418.5" width="20" height="1.6" fill="#707070" /><rect x="471.5" y="433" width="20" height="1.6" fill="#707070" /></g><rect x="418.05" y="373.15" width="79.89999999999998" height="67.10000000000002" fill="none" stroke="#aaaaaa" stroke-width="1.5"/></svg>
<div class="b" style="left:0px;top:73.4px;width:178.0px;height:13.3px;background:#c8def3"></div><div class="t" style="left:3.4px;top:73.20px;letter-spacing:0.67px">Order and set up project team</div>
<div class="b" style="left:57.7px;top:100.1px;width:158.2px;height:21.8px;background:#c8def3"></div><div class="t" style="left:60.8px;top:100.20px;">Technic communication</div><div class="t" style="left:60.8px;top:110.80px;">of business and technic datas</div>
<div class="b" style="left:73.8px;top:126px;width:177.2px;height:13.0px;background:#c8def3"></div><div class="t" style="left:77.2px;top:126.00px;">Customer specifiation conficmation</div>
<div class="b" style="left:122px;top:148.5px;width:171.5px;height:13.5px;background:#c8def3"></div><div class="t" style="left:127.7px;top:148.70px;">Soft mould 4parts from softmould</div>
<div class="b" style="left:137.7px;top:172px;width:120.3px;height:12.4px;background:#c8def3"></div><div class="t" style="left:145.3px;top:171.80px;">Mould structure design</div>
<div class="b" style="left:199px;top:193.4px;width:190.7px;height:12.6px;background:#c8def3"></div><div class="t" style="left:202.8px;top:193.20px;">Product and mould design approval</div>
<div class="b" style="left:247.7px;top:217.3px;width:158.0px;height:12.3px;background:#c8def3"></div><div class="t" style="left:251px;top:216.80px;">Mould manufacturing planning</div>
<div class="b" style="left:302.9px;top:239px;width:112.1px;height:13.0px;background:#c8def3"></div><div class="t" style="left:304.8px;top:238.60px;">Purchase controlling</div>
<div class="b" style="left:337px;top:258px;width:115.0px;height:23.5px;background:#c8def3"></div><div class="t" style="left:337px;top:255.80px;">Check mould materials</div><div class="t" style="left:337px;top:267.60px;">and standard parts</div>
<div class="b" style="left:379.4px;top:283.3px;width:151.4px;height:12.7px;background:#c8def3"></div><div class="t" style="left:383px;top:283.00px;">Manufacturing process control</div>
<div class="b" style="left:443.9px;top:306.7px;width:127.1px;height:12.7px;background:#c8def3"></div><div class="t" style="left:448.3px;top:306.30px;">Mould testing and video</div>
<div class="b" style="left:458.4px;top:331px;width:167.6px;height:12.7px;background:#c8def3"></div><div class="t" style="left:462.1px;top:330.70px;">Products testing and CMM report</div>
<div class="b" style="left:524.5px;top:353.5px;width:203.4px;height:13.0px;background:#c8def3"></div><div class="t" style="left:526.3px;top:353.20px;">Test samples to customer for inspection</div>
<div class="b" style="left:570.8px;top:374.8px;width:160.0px;height:12.9px;background:#c8def3"></div><div class="t" style="left:574.3px;top:374.50px;">Product approval form client</div>
<div class="b" style="left:613.7px;top:397.8px;width:119.2px;height:13.2px;background:#c8def3"></div><div class="t" style="left:618.1px;top:397.50px;">Mould final inspection</div>
<div class="b" style="left:660.2px;top:422.4px;width:98.1px;height:12.6px;background:#c8def3"></div><div class="t" style="left:664.1px;top:422.10px;">Packing the mould</div>
<div class="b" style="left:668.2px;top:446px;width:128.8px;height:12.5px;background:#c8def3"></div><div class="t" style="left:676.3px;top:445.70px;">All datas for the mould</div>
<div class="b" style="left:744.3px;top:467.4px;width:65.7px;height:12.6px;background:#c8def3"></div><div class="t" style="left:754.3px;top:467.10px;">Shipment</div>
<div class="b" style="left:792.8px;top:494px;width:95.2px;height:12.5px;background:#c8def3"></div><div class="t" style="left:796.1px;top:493.70px;">Client’s feedback</div>
<div class="b" style="left:826.2px;top:520.2px;width:94.4px;height:25.3px;background:#c8def3"></div><div class="t" style="left:842px;top:520.20px;letter-spacing:0.7px;-webkit-text-stroke:0">Continuous</div><div class="t" style="left:842px;top:534.20px;letter-spacing:0.7px;-webkit-text-stroke:0">improvement</div>
<div class="b" style="left:372.4px;top:304.7px;width:68.9px;height:12.9px;background:#f39800"></div><div class="t" style="left:376.1px;top:304.40px;">Low process</div>
<div class="b" style="left:365.5px;top:324.5px;width:75.3px;height:13.0px;background:#f39800"></div><div class="t" style="left:368.7px;top:324.20px;">Finish process</div>
<div class="b" style="left:379.7px;top:344.2px;width:61.1px;height:12.6px;background:#f39800"></div><div class="t" style="left:388px;top:343.90px;">Assembly</div>
<div class="b" style="left:601.6px;top:467.4px;width:127.8px;height:12.6px;background:#f39800"></div><div class="t" style="left:604.3px;top:467.10px;">Customs delaration datas</div>
<div class="b" style="left:668px;top:487.3px;width:61.4px;height:12.3px;background:#f39800"></div><div class="t" style="left:668px;top:487.00px;">CMM report</div>
<div class="b" style="left:657px;top:506.2px;width:72.5px;height:12.8px;background:#f39800"></div><div class="t" style="left:660.2px;top:505.90px;">Mould manual</div>
<div class="b" style="left:654.7px;top:525.9px;width:74.8px;height:12.4px;background:#f39800"></div><div class="t" style="left:658.6px;top:525.60px;">Spare part list</div>
<svg width="930" height="600" viewBox="0 0 930 600"><circle cx="296.2" cy="106.3" r="4.5" fill="#f39800"/><circle cx="438.7" cy="201" r="4.3" fill="#f39800"/><circle cx="601.5" cy="166.5" r="3.8" fill="#f39800"/><circle cx="775.5" cy="257.5" r="4.6" fill="#f39800"/><circle cx="904" cy="121" r="4.1" fill="#f39800"/><circle cx="80.7" cy="375.9" r="4.5" fill="#f39800"/><circle cx="191" cy="438.9" r="4.3" fill="#f39800"/><circle cx="291.5" cy="372.5" r="4.3" fill="#f39800"/><circle cx="368.3" cy="439" r="4.3" fill="#f39800"/><circle cx="474.3" cy="372.7" r="4.3" fill="#f39800"/></svg>
<div class="b" style="left:792.4px;top:342.4px;width:109.4px;height:34.6px;border:1px solid #e2e2e2;box-sizing:border-box;background:#fff"></div>
<div class="t" style="left:796.6px;top:346.9px;font-family:'Liberation Mono',monospace;font-size:4.85px;line-height:6.95px;color:#777;letter-spacing:0px;-webkit-text-stroke:0">we obtain a new visual field of the<br>maket on the basis of understanding<br>to each customer,as well as one to<br>one communication.</div>
</body></html>
